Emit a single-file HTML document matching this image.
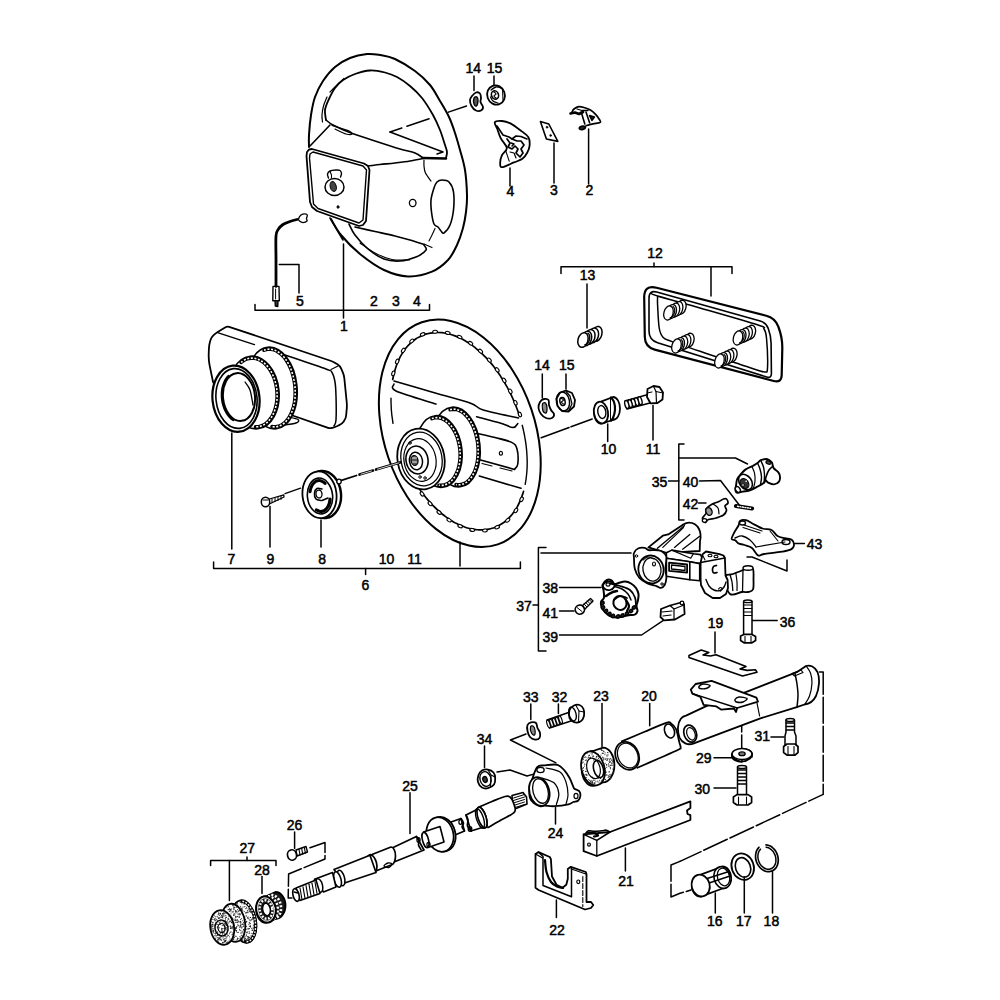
<!DOCTYPE html><html><head><meta charset="utf-8"><style>html,body{margin:0;padding:0;background:#fff;width:1000px;height:1000px;overflow:hidden}svg{display:block}text{font-family:"Liberation Sans",sans-serif;font-size:14px;fill:#000;text-anchor:middle;stroke:#000;stroke-width:0.5px}</style></head><body>
<svg width="1000" height="1000" viewBox="0 0 1000 1000">
<g fill="none" stroke="#000" stroke-width="1.5" stroke-linejoin="round" stroke-linecap="round">
<polyline points="474,76 474,90.5"/>
<polyline points="494,76 494,85"/>
<polyline points="510,168 510,186"/>
<polyline points="554,143 554,183"/>
<polyline points="588.6,129 588.6,184"/>
<polyline points="255,304.5 255,310.2 429.5,310.2 429.5,304.5"/>
<polyline points="343.5,244 343.5,318"/>
<polyline points="279.3,264.4 299,264.4 299,293"/>
<polyline points="561,273.5 561,266.7 732,266.7 732,273.5"/>
<polyline points="654,263 654,266.7"/>
<polyline points="711,266.7 711,296"/>
<polyline points="587,284 587,328"/>
<polyline points="542.3,374 542.3,398"/>
<polyline points="566,374 566,389"/>
<polyline points="607.7,424 607.7,441.5"/>
<polyline points="653,405.5 653,440"/>
<polyline points="213.6,562 213.6,568.5 520.4,568.5 520.4,562"/>
<polyline points="365.6,568.5 365.6,574.5"/>
<polyline points="231.8,433 231.8,549"/>
<polyline points="270,506.5 270,547"/>
<polyline points="321,520 321,547"/>
<polyline points="460,542 460,566"/>
<polyline points="684,444 678.8,444 678.8,520 684,520"/>
<polyline points="668.5,481 678.8,481"/>
<polyline points="699.5,481 720.5,480.5 740,506"/>
<polyline points="678.8,458 735.5,458 747.5,464"/>
<polyline points="698.5,503 706,503"/>
<polyline points="794,543.4 804.4,543.4"/>
<polyline points="747,557 752,557 787,571 787,560"/>
<polyline points="546,547.4 538.4,547.4 538.4,651 546,651"/>
<polyline points="533,605 538.4,605"/>
<polyline points="541,553 631,553"/>
<polyline points="559.5,587.5 601,587.5"/>
<polyline points="559.5,611 574,611"/>
<polyline points="559.5,635 641.6,635 663,620.6"/>
<polyline points="752,620.6 777.2,620.6"/>
<polyline points="715,632 715,653"/>
<polyline points="602,703.6 602,746.5"/>
<polyline points="649.7,703.6 649.7,725.7"/>
<polyline points="771,737 784,737"/>
<polyline points="714,757.7 732,757.7"/>
<polyline points="714,788 736,788"/>
<polyline points="530.8,704 530.8,719.6"/>
<polyline points="558.4,704 558.4,713.6"/>
<polyline points="484.5,746 484.5,767.6"/>
<polyline points="410,792.8 410,833.6"/>
<polyline points="555.5,807 555.5,824"/>
<polyline points="526,734 510.4,740 556,762.8"/>
<polyline points="497,772 510,770 527,776 535.6,773.6"/>
<polyline points="294.6,832 294.6,848.6"/>
<polyline points="262,876.6 262,893.4"/>
<polyline points="210.6,865.4 210.6,860.4 276,860.4 276,865.4"/>
<polyline points="247,857 247,860.4"/>
<polyline points="229.4,860.4 229.4,900.4"/>
<polyline points="625.4,848 625.4,871"/>
<polyline points="556.4,900 556.4,917.6"/>
<polyline points="715.3,893 715.3,913"/>
<polyline points="744.3,877 744.3,913"/>
<polyline points="772.5,871 772.5,913"/>
<polyline stroke-dasharray="26 3" points="741.7,706 741.7,748"/>
<polyline stroke-dasharray="26 3" points="819.5,672 823.2,672 823.2,794.4 680,861.4"/>
<polyline stroke-dasharray="26 3" points="680,861.4 671,865 671,897 680,893.3 691,890"/>
<polyline stroke-dasharray="26 3" points="310,847.7 325,842.5 325,859 288.6,874 288.2,898 292,898"/>
<polyline stroke-dasharray="19.1 20.4 23.4 5.4 12.6 100" points="466.5,106 390,132"/>
<polyline stroke-dasharray="22.6 2 40 100" points="592.2,419 541.2,437.7"/>
</g>
<g fill="none" stroke="#000" stroke-linejoin="round" stroke-linecap="round" stroke-width="1.5"><path d="M309,147 C309,145 308.7,140.3 309,135 C309.3,129.7 310,121.3 311,115 C312,108.7 313,102.7 315,97 C317,91.3 319.7,86 323,81 C326.3,76 330.5,70.8 335,67 C339.5,63.2 344.7,60.2 350,58 C355.3,55.8 362,54.5 367,54 C372,53.5 375.3,54.2 380,55 C384.7,55.8 389.2,56.3 395,59 C400.8,61.7 409.2,66.7 415,71 C420.8,75.3 425.8,80 430,85 C434.2,90 436.8,95.7 440,101 C443.2,106.3 446.5,111.7 449,117 C451.5,122.3 453.2,127.5 455,133 C456.8,138.5 458.3,143.8 460,150 C461.7,156.2 463.8,162.5 465,170 C466.2,177.5 466.8,188 467,195 C467.2,202 466.7,206.5 466,212 C465.3,217.5 464.5,222.5 463,228 C461.5,233.5 459.5,239.7 457,245 C454.5,250.3 452.2,255.6 448,260 C443.8,264.4 438.7,268.9 432,271.6 C425.3,274.3 416,276.7 408,276.4 C400,276.1 392,273.7 384,270 C376,266.3 367.2,259.8 360,254 C352.8,248.2 345.8,240.8 341,235 C336.2,229.2 332.7,221.7 331,219" stroke-width="2"/>
<path d="M326,120 C325.8,118.3 324.5,113.5 325,110 C325.5,106.5 327.3,102.7 329,99 C330.7,95.3 332.7,91.2 335,88 C337.3,84.8 339.7,82.3 343,80 C346.3,77.7 350.5,75.6 355,74 C359.5,72.4 365,70.8 370,70.5 C375,70.2 380.5,71.4 385,72.5 C389.5,73.6 392.8,74.8 397,77 C401.2,79.2 405.8,82.5 410,86 C414.2,89.5 418.2,93.2 422,98 C425.8,102.8 430,109.7 433,115 C436,120.3 438,125 440,130 C442,135 443.8,141.3 445,145 C446.2,148.7 446.8,149.8 447,152 C447.2,154.2 446.2,157 446,158" stroke-width="1.8"/>
<path d="M344,78.5 C342.7,79.8 338.3,83.8 336,86 C333.7,88.2 331,91 330,92" stroke-width="1.2"/>
<path d="M327,97 C326.4,98.5 324.3,103 323.5,106 C322.7,109 322.2,112.3 322,115 C321.8,117.7 322.4,120.8 322.5,122" stroke-width="1.2"/>
<path d="M326,120 C327.2,120.8 328.8,122.8 333,125 C337.2,127.2 344,130.3 351,133 C358,135.7 366.8,138.3 375,141 C383.2,143.7 393.3,147 400,149 C406.7,151 411.2,151.5 415,153 C418.8,154.5 421.7,157.2 423,158" stroke-width="1.6"/>
<polyline points="423,158 446,158.5" stroke-width="2.5"/>
<path d="M332,125.5 C333.3,125.9 337.2,127.1 340,128 C342.8,128.9 347,130 349,131 C351,132 352.5,133.5 352,134 C351.5,134.5 348.8,134.8 346,134 C343.2,133.2 336.8,129.8 335,129" stroke-width="1.2"/>
<polyline points="310,146 330,125" stroke-width="1.6"/>
<polyline points="390,132 443,152 437,154" stroke-width="1.5"/>
<path d="M368,166 C370,165.8 375.5,165 380,164.5 C384.5,164 390,163.6 395,163 C400,162.4 405.3,161.8 410,161 C414.7,160.2 420.8,158.9 423,158.5" stroke-width="1.6"/>
<polygon points="307,152 309,149.5 312,149 364,163.5 368,166 369.5,170 366,221 363,225 359,226 317,211 312,207 310,202 306.5,156" stroke-width="1.8"/>
<polygon points="310,154 313,152 363,166 366.5,170 363,220 359,223 318,208.5 313.5,204 309.5,158" stroke-width="1.4"/>
<ellipse cx="334.5" cy="187" rx="9.5" ry="8.5" stroke-width="1.5"/>
<ellipse cx="333.2" cy="186.5" rx="3" ry="5" transform="rotate(-15 333.2 186.5)" stroke-width="1" fill="#444"/>
<path d="M328.5,178 C328.3,177.3 327.2,175.2 327.5,174 C327.8,172.8 328.6,171.7 330,171 C331.4,170.3 334.3,170.1 336,170 C337.7,169.9 339.1,169.9 340,170.5 C340.9,171.1 341.4,172.4 341.5,173.5 C341.6,174.6 340.7,176.4 340.5,177" stroke-width="1.4"/>
<polyline points="330,171.5 331.5,175 331.5,178" stroke-width="1.1"/>
<ellipse cx="338" cy="207" rx="1.2" ry="1.4" stroke-width="0.5" fill="#111"/>
<polyline points="330,218 343,240" stroke-width="1.6"/>
<path d="M349,224 C350,225.8 351.8,230.8 355,235 C358.2,239.2 363.2,245 368,249 C372.8,253 378.7,257 384,259 C389.3,261 394.7,261.3 400,261 C405.3,260.7 411.7,258.8 416,257 C420.3,255.2 424.7,252 426,250 C427.3,248 424.3,245.8 424,245" stroke-width="1.6"/>
<path d="M355,227 C358.3,227.8 368.3,230 375,231.5 C381.7,233 389.2,234.6 395,236 C400.8,237.4 405.2,238.6 410,240 C414.8,241.4 421.7,243.7 424,244.4" stroke-width="1.6"/>
<path d="M360,243 C362.5,244.7 369.7,250.2 375,253 C380.3,255.8 386.2,258.3 392,259.5 C397.8,260.7 406.7,259.9 409.6,260" stroke-width="1.1"/>
<polyline points="424,244 432,247.6" stroke-width="1.1"/>
<path d="M442,180 C444,180 447.1,180 449,182 C450.9,184 452.8,187.3 453.5,192 C454.2,196.7 454.1,204.5 453.5,210 C452.9,215.5 451.6,221.2 450,225 C448.4,228.8 445.5,232 444,233 C442.5,234 442,232 441,231 C440,230 439.2,228.2 438,227 C436.8,225.8 435.1,226.5 434,224 C432.9,221.5 432,216 431.5,212 C431,208 430.6,204 431,200 C431.4,196 433,191 434,188 C435,185 435.7,183.3 437,182 C438.3,180.7 440,180 442,180Z" stroke-width="1.6"/>
<ellipse cx="412.7" cy="203" rx="3.3" ry="3.6" stroke-width="1.3"/>
<path d="M424,160 C424,161 423.8,163.8 424,166 C424.2,168.2 424.3,170.5 425.5,173 C426.7,175.5 430.1,179.7 431,181" stroke-width="1.2"/>
<path d="M435,228.4 C434.5,229.5 433,232.9 432,235 C431,237.1 429.5,240 429,241" stroke-width="1.1"/>
<path d="M276,286.4 C276,282 276,268.4 276,260 C276,251.6 275.6,241.2 276,236 C276.4,230.8 277.3,230.9 278.5,229 C279.7,227.1 281.1,225.8 283,224.5 C284.9,223.2 287.7,222.3 290,221.5 C292.3,220.7 295.8,219.8 297,219.5" stroke-width="2.8"/>
<path d="M298.5,219 C298.8,218 299.9,215.9 301,215 C302.1,214.1 303.9,213.8 305,213.8 C306.1,213.8 307.1,214.2 307.3,215 C307.6,215.8 306.6,217.5 306.5,218.5 C306.4,219.5 307.6,220.3 307,221 C306.4,221.7 304.2,222.6 303,222.6 C301.8,222.6 300.2,221.6 299.5,221 C298.8,220.4 298.2,220 298.5,219Z" stroke-width="1.3"/>
<polygon points="273,286.4 279,286.4 279.3,300.7 272.8,300.7" stroke-width="1.4"/>
<polyline points="275.6,289 275.6,299" stroke-width="1"/>
<polyline points="275,300.7 275.3,306 277.8,306.5 278,300.7" stroke-width="1.3" fill="#333"/></g>
<g fill="none" stroke="#000" stroke-linejoin="round" stroke-linecap="round" stroke-width="1.5"><path d="M472,96 C473,94.8 474.7,92.9 476,92.5 C477.3,92.1 479.2,92.6 480,93.5 C480.8,94.4 480.9,96.6 481,98 C481.1,99.4 480.2,100.5 480.5,102 C480.8,103.5 482.9,105.6 483,107 C483.1,108.4 482.2,109.9 481,110.5 C479.8,111.1 477.6,111.2 476,110.5 C474.4,109.8 472.5,107.8 471.5,106 C470.5,104.2 469.9,101.7 470,100 C470.1,98.3 471,97.2 472,96Z" stroke-width="1.8"/>
<path d="M474,98 C474.5,96.8 476.3,96.5 477,97 C477.7,97.5 478.1,99.5 478,101 C477.9,102.5 477.2,105.5 476.5,106 C475.8,106.5 474.4,105.3 474,104 C473.6,102.7 473.5,99.2 474,98Z" stroke-width="1.3" fill="#555"/>
<ellipse cx="496" cy="95" rx="8.8" ry="9.8" transform="rotate(-20 496 95)" stroke-width="1.8"/>
<path d="M491,90 C491.8,89.5 494.3,87.3 496,87 C497.7,86.7 500.2,87.8 501,88" stroke-width="1.3"/>
<path d="M490.5,97 C490.9,97.7 491.8,100 493,101 C494.2,102 497.2,102.7 498,103" stroke-width="1.2"/>
<ellipse cx="495" cy="95" rx="3.5" ry="4.2" transform="rotate(-20 495 95)" stroke-width="1.6" fill="#fff"/>
<path d="M494,92 C494.3,92.3 496,93.3 496,94 C496,94.7 494,95.3 494,96 C494,96.7 495.7,97.7 496,98" stroke-width="1.2"/>
<polyline points="502.5,89 503,100" stroke-width="1.1"/>
<path d="M494.8,122.2 C495.6,120.9 499.4,120.8 502,121 C504.6,121.2 507.4,121.9 510.4,123.4 C513.4,124.9 517,127.7 520,130 C523,132.3 526.8,134.6 528.4,137.2 C530,139.8 529.8,143 529.6,145.6 C529.4,148.2 528.4,150.6 527.2,152.8 C526,155 524.6,157.2 522.4,158.8 C520.2,160.4 517.4,161 514,162.4 C510.6,163.8 504.3,167.2 502,167.2 C499.7,167.2 500.2,164.4 500.2,162.4 C500.2,160.4 500.9,157.6 502,155.2 C503.1,152.8 507,150.8 506.8,148 C506.6,145.2 502.4,141.6 500.8,138.4 C499.2,135.2 498.2,131.5 497.2,128.8 C496.2,126.1 494,123.5 494.8,122.2Z" stroke-width="1.8"/>
<polyline points="497,126 503,135 509,137 512,139 516,136 521,136.5 527,139" stroke-width="1.6"/>
<polyline points="507,139 510,143 508,147 512,149 515,146 518,149 516,153 520,157 523,153 521,149 524,145 521,141 517,141 512,139" stroke-width="1.7"/>
<polyline points="511,143 514,144 512,146" stroke-width="1.5"/>
<polyline points="505.6,150.4 509.2,161.2" stroke-width="1.1"/>
<polyline points="510,152 514,153 516,158" stroke-width="1.2"/>
<polygon points="540.4,121.6 548.8,124 557.8,141.4 546.4,139" stroke-width="1.6"/>
<ellipse cx="547" cy="127.2" rx="0.9" ry="1" stroke-width="0.6" fill="#111"/>
<ellipse cx="550.6" cy="135.4" rx="0.9" ry="1" stroke-width="0.6" fill="#111"/>
<path d="M572,112 C572.3,111.5 572.9,109.9 574,109 C575.1,108.1 577,106.8 578.8,106.6 C580.6,106.4 582.8,107.2 584.8,107.8 C586.8,108.4 589,109.1 590.8,110.2 C592.6,111.3 594.2,112.9 595.6,114.4 C597,115.9 598.4,117.9 599.2,119.2 C600,120.5 601,121.5 600.4,122.2 C599.8,122.9 597.4,123 595.6,123.4 C593.8,123.8 591.2,124.2 589.6,124.6 C588,125 586.6,125.6 586,125.8" stroke-width="1.7"/>
<polyline points="570.5,113.5 575,112.5 579,114 583,112" stroke-width="2.6"/>
<polyline points="581.2,112 584.8,124" stroke-width="1.6"/>
<polyline points="586,112 589.6,122.8" stroke-width="1.6"/>
<polygon points="589.6,115.6 594.4,117 592,120.4" stroke-width="1.6" fill="#222"/>
<polyline points="577,109 582,110.5 588,110.5" stroke-width="1.3"/>
<path d="M580,127 C580.7,126.5 582.6,125.9 583.5,126 C584.4,126.1 585.6,126.9 585.5,127.5 C585.4,128.1 584,129.2 583,129.5 C582,129.8 580,129.4 579.5,129 C579,128.6 579.3,127.5 580,127Z" stroke-width="1.6" fill="#222"/></g>
<g fill="none" stroke="#000" stroke-linejoin="round" stroke-linecap="round" stroke-width="1.5"><path d="M644.2,297.5 Q644,284.5 656.6,287.7 L766.3,315.8 Q775,318 778.2,326.4 L778.8,328 Q782.5,338 782.3,348.7 L781.7,375 Q781.5,383 773.8,381 L654.7,349.6 Q645,347 644.8,337 Z" stroke-width="2.2"/>
<path d="M649,298 Q649,290 656.7,292.1 L760.2,320.9 Q766,322.5 768.1,328.1 L768.5,329.2 Q771,336 771.1,343.2 L771.4,373.5 Q771.5,378.5 766.7,377 L657.6,342.7 Q649,340 649,331 Z" stroke-width="1.6"/>
<path d="M651,293 C652.1,293.5 649.4,293.5 657.6,296 C665.8,298.5 683.3,303.2 700,308 C716.7,312.8 747.3,321.5 758,325 C768.7,328.5 762.6,326.8 764,329 C765.4,331.2 765.9,331.5 766.5,338 C767.1,344.5 767.8,362.3 767.5,368 C767.2,373.7 766.8,371.7 765,372 C763.2,372.3 761.8,371.5 757,370 C752.2,368.5 742.8,365.2 736,363 C729.2,360.8 722.2,358.6 716.2,356.7 C710.2,354.8 707.4,353.8 700,351.3 C692.6,348.8 678.1,343.9 672,341.6 C665.9,339.3 665.3,339.9 663.2,337.6 C661.1,335.3 660.1,333.4 659.2,328 C658.3,322.6 657.9,310.3 657.6,305 C657.3,299.7 657.6,297.5 657.6,296" stroke-width="1.5"/>
<ellipse cx="681.3" cy="307.3" rx="4.6" ry="7.2" transform="rotate(15 681.3 307.3)" stroke-width="1.3" fill="#fff"/>
<ellipse cx="678.1" cy="308.7" rx="4.6" ry="7.2" transform="rotate(15 678.1 308.7)" stroke-width="1.3" fill="#fff"/>
<ellipse cx="674.9" cy="310.2" rx="4.6" ry="7.2" transform="rotate(15 674.9 310.2)" stroke-width="1.3" fill="#fff"/>
<ellipse cx="671.7" cy="311.6" rx="4.6" ry="7.2" transform="rotate(15 671.7 311.6)" stroke-width="1.3" fill="#fff"/>
<ellipse cx="668.5" cy="313" rx="4.6" ry="7.2" transform="rotate(15 668.5 313)" stroke-width="1.3" fill="#fff"/>
<path d="M673.1,306.5 C673.2,306.7 673.6,307 673.9,307.3 C674.1,307.5 674.3,307.9 674.4,308.3 C674.5,308.7 674.6,309.2 674.7,309.7 C674.7,310.1 674.7,310.7 674.7,311.2 C674.6,311.7 674.5,312.2 674.4,312.8 C674.3,313.3 674.1,313.8 673.9,314.3 C673.6,314.7 673.4,315.2 673.1,315.6 C672.8,316 672.5,316.3 672.2,316.6 C671.9,316.9 671.5,317.1 671.2,317.3 C670.8,317.4 670.3,317.5 670.2,317.5" stroke-width="1.1700000000000002"/>
<ellipse cx="689.3" cy="340.3" rx="4.6" ry="7.2" transform="rotate(15 689.3 340.3)" stroke-width="1.3" fill="#fff"/>
<ellipse cx="686.1" cy="341.7" rx="4.6" ry="7.2" transform="rotate(15 686.1 341.7)" stroke-width="1.3" fill="#fff"/>
<ellipse cx="682.9" cy="343.2" rx="4.6" ry="7.2" transform="rotate(15 682.9 343.2)" stroke-width="1.3" fill="#fff"/>
<ellipse cx="679.7" cy="344.6" rx="4.6" ry="7.2" transform="rotate(15 679.7 344.6)" stroke-width="1.3" fill="#fff"/>
<ellipse cx="676.5" cy="346" rx="4.6" ry="7.2" transform="rotate(15 676.5 346)" stroke-width="1.3" fill="#fff"/>
<path d="M681.1,339.5 C681.2,339.7 681.6,340 681.9,340.3 C682.1,340.5 682.3,340.9 682.4,341.3 C682.5,341.7 682.6,342.2 682.7,342.7 C682.7,343.1 682.7,343.7 682.7,344.2 C682.6,344.7 682.5,345.2 682.4,345.8 C682.3,346.3 682.1,346.8 681.9,347.3 C681.6,347.7 681.4,348.2 681.1,348.6 C680.8,349 680.5,349.3 680.2,349.6 C679.9,349.9 679.5,350.1 679.2,350.3 C678.8,350.4 678.3,350.5 678.2,350.5" stroke-width="1.1700000000000002"/>
<ellipse cx="750.8" cy="332.3" rx="4.6" ry="7.2" transform="rotate(15 750.8 332.3)" stroke-width="1.3" fill="#fff"/>
<ellipse cx="747.6" cy="333.7" rx="4.6" ry="7.2" transform="rotate(15 747.6 333.7)" stroke-width="1.3" fill="#fff"/>
<ellipse cx="744.4" cy="335.2" rx="4.6" ry="7.2" transform="rotate(15 744.4 335.2)" stroke-width="1.3" fill="#fff"/>
<ellipse cx="741.2" cy="336.6" rx="4.6" ry="7.2" transform="rotate(15 741.2 336.6)" stroke-width="1.3" fill="#fff"/>
<ellipse cx="738" cy="338" rx="4.6" ry="7.2" transform="rotate(15 738 338)" stroke-width="1.3" fill="#fff"/>
<path d="M742.6,331.5 C742.7,331.7 743.1,332 743.4,332.3 C743.6,332.5 743.8,332.9 743.9,333.3 C744,333.7 744.1,334.2 744.2,334.7 C744.2,335.1 744.2,335.7 744.2,336.2 C744.1,336.7 744,337.2 743.9,337.8 C743.8,338.3 743.6,338.8 743.4,339.3 C743.1,339.7 742.9,340.2 742.6,340.6 C742.3,341 742,341.3 741.7,341.6 C741.4,341.9 741,342.1 740.7,342.3 C740.3,342.4 739.8,342.5 739.7,342.5" stroke-width="1.1700000000000002"/>
<ellipse cx="732.3" cy="355.3" rx="4.6" ry="7.2" transform="rotate(15 732.3 355.3)" stroke-width="1.3" fill="#fff"/>
<ellipse cx="729.1" cy="356.7" rx="4.6" ry="7.2" transform="rotate(15 729.1 356.7)" stroke-width="1.3" fill="#fff"/>
<ellipse cx="725.9" cy="358.2" rx="4.6" ry="7.2" transform="rotate(15 725.9 358.2)" stroke-width="1.3" fill="#fff"/>
<ellipse cx="722.7" cy="359.6" rx="4.6" ry="7.2" transform="rotate(15 722.7 359.6)" stroke-width="1.3" fill="#fff"/>
<ellipse cx="719.5" cy="361" rx="4.6" ry="7.2" transform="rotate(15 719.5 361)" stroke-width="1.3" fill="#fff"/>
<path d="M724.1,354.5 C724.2,354.7 724.6,355 724.9,355.3 C725.1,355.5 725.3,355.9 725.4,356.3 C725.5,356.7 725.6,357.2 725.7,357.7 C725.7,358.1 725.7,358.7 725.7,359.2 C725.6,359.7 725.5,360.2 725.4,360.8 C725.3,361.3 725.1,361.8 724.9,362.3 C724.6,362.7 724.4,363.2 724.1,363.6 C723.8,364 723.5,364.3 723.2,364.6 C722.9,364.9 722.5,365.1 722.2,365.3 C721.8,365.4 721.3,365.5 721.2,365.5" stroke-width="1.1700000000000002"/>
<ellipse cx="596.9" cy="333.8" rx="5" ry="7.5" transform="rotate(15 596.9 333.8)" stroke-width="1.5" fill="#fff"/>
<ellipse cx="593.4" cy="335.4" rx="5" ry="7.5" transform="rotate(15 593.4 335.4)" stroke-width="1.5" fill="#fff"/>
<ellipse cx="589.9" cy="336.9" rx="5" ry="7.5" transform="rotate(15 589.9 336.9)" stroke-width="1.5" fill="#fff"/>
<ellipse cx="586.5" cy="338.5" rx="5" ry="7.5" transform="rotate(15 586.5 338.5)" stroke-width="1.5" fill="#fff"/>
<ellipse cx="583" cy="340" rx="5" ry="7.5" transform="rotate(15 583 340)" stroke-width="1.5" fill="#fff"/>
<path d="M587.9,333.2 C588.1,333.4 588.5,333.7 588.8,334 C589,334.3 589.2,334.7 589.4,335.1 C589.5,335.5 589.6,336 589.7,336.5 C589.7,337 589.7,337.6 589.7,338.1 C589.6,338.6 589.5,339.2 589.4,339.7 C589.3,340.3 589.1,340.8 588.8,341.3 C588.6,341.8 588.3,342.3 588,342.7 C587.7,343.1 587.4,343.4 587,343.7 C586.7,344 586.3,344.2 586,344.4 C585.6,344.6 585.1,344.6 584.9,344.6" stroke-width="1.35"/></g>
<g fill="none" stroke="#000" stroke-linejoin="round" stroke-linecap="round" stroke-width="1.5"><path d="M225.5,327.2 Q227.2,326.2 229.1,326.8 L331.2,361 Q334,362 336.5,363.7 L337.5,364.3 Q340,366 341.2,368.7 L342.8,372.3 Q344,375 344.3,378 L346.7,402 Q347,405 346.8,408 L346.2,415 Q346,418 344.3,420.5 L343.7,421.5 Q342,424 339.2,425.2 L337.4,426 Q335,427 332.5,427.8 L331.9,427.9 Q330,428.5 328.1,427.8 L294,416 Q294,416 294,416 L216.4,385.7 Q213.6,384.6 213,381.7 L209.7,365.9 Q208.5,360 208.7,354 L208.9,349 Q209,345 210.1,341.2 L210.4,340.3 Q211.2,337.4 213.4,335.4 L214.5,334.4 Q216,333 217.7,332 Z" stroke-width="1.8" fill="#fff"/>
<polyline points="217.6,332.6 254.4,344.6" stroke-width="1.5"/>
<path d="M282,354 C289.3,356.5 317.7,365.9 326,369 C334.3,372.1 330.5,370.3 332,372.5 C333.5,374.7 334.3,378.1 335,382 C335.7,385.9 335.8,389.7 336,396 C336.2,402.3 336.3,415 336,420 C335.7,425 334.3,425 334,426" stroke-width="1.5"/>
<polyline points="331,369.5 338,366" stroke-width="1.2"/>
<path d="M288,417 C289.7,417.4 296.7,418.5 298,419.5 C299.3,420.5 299,422 296,423 C293,424 282.7,425.1 280,425.5" stroke-width="1.4"/>
<ellipse cx="272" cy="388" rx="25" ry="41" transform="rotate(-6 272 388)" stroke-width="1.6" fill="#fff"/>
<path d="M264,350.2 C264.6,350.1 266.2,349.5 267.3,349.3 C268.4,349.1 269.5,349.1 270.6,349.2 C271.7,349.3 272.9,349.5 274,349.9 C275.1,350.3 276.2,350.8 277.3,351.4 C278.4,352.1 279.5,352.8 280.5,353.7 C281.6,354.6 282.6,355.6 283.6,356.7 C284.6,357.9 285.5,359.1 286.4,360.4 C287.3,361.7 288.1,363.2 288.9,364.7 C289.6,366.2 290.4,367.8 291,369.4 C291.7,371.1 292.2,372.8 292.7,374.6 C293.2,376.3 293.7,378.2 294,380 C294.4,381.8 294.7,383.7 294.9,385.6 C295.1,387.5 295.2,389.4 295.2,391.2 C295.3,393.1 295.2,395 295.1,396.8 C295,398.6 294.7,400.5 294.5,402.2 C294.2,404 293.8,405.7 293.4,407.3 C292.9,408.9 292.4,410.5 291.8,412 C291.2,413.5 290.5,414.9 289.8,416.2 C289.1,417.5 288.3,418.7 287.5,419.7 C286.6,420.8 285.7,421.8 284.8,422.7 C283.9,423.5 282.9,424.2 281.9,424.8 C280.8,425.4 279.8,425.9 278.7,426.2 C277.6,426.6 276.5,426.8 275.4,426.8 C274.3,426.9 272.6,426.7 272,426.6" stroke-width="3.6"/><path d="M264,350.2 C264.6,350.1 266.2,349.5 267.3,349.3 C268.4,349.1 269.5,349.1 270.6,349.2 C271.7,349.3 272.9,349.5 274,349.9 C275.1,350.3 276.2,350.8 277.3,351.4 C278.4,352.1 279.5,352.8 280.5,353.7 C281.6,354.6 282.6,355.6 283.6,356.7 C284.6,357.9 285.5,359.1 286.4,360.4 C287.3,361.7 288.1,363.2 288.9,364.7 C289.6,366.2 290.4,367.8 291,369.4 C291.7,371.1 292.2,372.8 292.7,374.6 C293.2,376.3 293.7,378.2 294,380 C294.4,381.8 294.7,383.7 294.9,385.6 C295.1,387.5 295.2,389.4 295.2,391.2 C295.3,393.1 295.2,395 295.1,396.8 C295,398.6 294.7,400.5 294.5,402.2 C294.2,404 293.8,405.7 293.4,407.3 C292.9,408.9 292.4,410.5 291.8,412 C291.2,413.5 290.5,414.9 289.8,416.2 C289.1,417.5 288.3,418.7 287.5,419.7 C286.6,420.8 285.7,421.8 284.8,422.7 C283.9,423.5 282.9,424.2 281.9,424.8 C280.8,425.4 279.8,425.9 278.7,426.2 C277.6,426.6 276.5,426.8 275.4,426.8 C274.3,426.9 272.6,426.7 272,426.6" stroke="#fff" stroke-width="1.6" stroke-dasharray="2 1.6" stroke-linecap="butt"/>
<ellipse cx="254" cy="392.5" rx="25" ry="36.5" transform="rotate(-6 254 392.5)" stroke-width="1.6" fill="#fff"/>
<path d="M241.1,362.4 C241.6,362.1 243.1,360.8 244.1,360.2 C245.2,359.6 246.3,359.1 247.4,358.8 C248.6,358.4 249.7,358.2 250.9,358.1 C252.1,358.1 253.2,358.1 254.4,358.3 C255.6,358.5 256.8,358.8 257.9,359.2 C259.1,359.7 260.3,360.3 261.4,361 C262.5,361.7 263.6,362.5 264.6,363.4 C265.7,364.3 266.7,365.4 267.6,366.5 C268.6,367.7 269.5,368.9 270.3,370.3 C271.1,371.6 271.9,373 272.6,374.5 C273.3,376 274,377.6 274.5,379.2 C275,380.8 275.5,382.5 275.9,384.2 C276.3,385.9 276.6,387.6 276.8,389.3 C277,391.1 277.1,392.9 277.1,394.6 C277.2,396.3 277.1,398.1 277,399.8 C276.8,401.5 276.6,403.2 276.3,404.8 C275.9,406.4 275.5,408 275,409.6 C274.5,411.1 273.9,412.5 273.3,413.9 C272.7,415.3 271.9,416.6 271.1,417.8 C270.3,418.9 269.5,420 268.6,421 C267.6,422 266.7,422.9 265.7,423.6 C264.6,424.4 263.6,425 262.5,425.5 C261.4,426 260.2,426.3 259.1,426.6 C257.9,426.8 256.2,426.8 255.6,426.9" stroke-width="3.6"/><path d="M241.1,362.4 C241.6,362.1 243.1,360.8 244.1,360.2 C245.2,359.6 246.3,359.1 247.4,358.8 C248.6,358.4 249.7,358.2 250.9,358.1 C252.1,358.1 253.2,358.1 254.4,358.3 C255.6,358.5 256.8,358.8 257.9,359.2 C259.1,359.7 260.3,360.3 261.4,361 C262.5,361.7 263.6,362.5 264.6,363.4 C265.7,364.3 266.7,365.4 267.6,366.5 C268.6,367.7 269.5,368.9 270.3,370.3 C271.1,371.6 271.9,373 272.6,374.5 C273.3,376 274,377.6 274.5,379.2 C275,380.8 275.5,382.5 275.9,384.2 C276.3,385.9 276.6,387.6 276.8,389.3 C277,391.1 277.1,392.9 277.1,394.6 C277.2,396.3 277.1,398.1 277,399.8 C276.8,401.5 276.6,403.2 276.3,404.8 C275.9,406.4 275.5,408 275,409.6 C274.5,411.1 273.9,412.5 273.3,413.9 C272.7,415.3 271.9,416.6 271.1,417.8 C270.3,418.9 269.5,420 268.6,421 C267.6,422 266.7,422.9 265.7,423.6 C264.6,424.4 263.6,425 262.5,425.5 C261.4,426 260.2,426.3 259.1,426.6 C257.9,426.8 256.2,426.8 255.6,426.9" stroke="#fff" stroke-width="1.6" stroke-dasharray="2 1.6" stroke-linecap="butt"/>
<ellipse cx="236" cy="398.7" rx="23.5" ry="33.2" transform="rotate(-6 236 398.7)" stroke-width="2.2" fill="#fff"/>
<ellipse cx="236.5" cy="398.5" rx="20.5" ry="30" transform="rotate(-6 236.5 398.5)" stroke-width="1.6"/>
<ellipse cx="239" cy="397" rx="16" ry="24" transform="rotate(-6 239 397)" stroke-width="2"/>
<path d="M233.1,419.9 C232.6,419.5 231.2,418.5 230.4,417.6 C229.5,416.7 228.6,415.8 227.9,414.7 C227.1,413.6 226.4,412.5 225.8,411.3 C225.1,410 224.5,408.7 224.1,407.4 C223.6,406 223.2,404.6 222.8,403.2 C222.5,401.8 222.3,400.3 222.1,398.8 C221.9,397.4 221.9,395.9 221.9,394.4 C221.9,392.9 222,391.5 222.2,390 C222.4,388.6 222.7,387.2 223.1,385.9 C223.5,384.6 223.9,383.3 224.5,382.1 C225,380.9 225.6,379.8 226.3,378.7 C226.9,377.7 228.1,376.4 228.5,376" stroke-width="2.4"/>
<path d="M245,382 C245.8,383.3 248.7,386.2 250,390 C251.3,393.8 252.5,402.5 253,405" stroke-width="1.3"/>
<path d="M224,385 C223.7,386.7 222.2,391.7 222,395 C221.8,398.3 222.8,403.3 223,405" stroke-width="1" stroke-dasharray="2 2"/>
<ellipse cx="459.8" cy="433.3" rx="75.5" ry="117.4" transform="rotate(-18.9 459.8 433.3)" stroke-width="2"/>
<path d="M392.7,379.5 C392.9,378.7 393.4,376.1 393.8,374.5 C394.2,372.9 394.6,371.3 395.1,369.7 C395.6,368.1 396.1,366.6 396.6,365.1 C397.2,363.7 397.7,362.2 398.4,360.8 C399,359.4 399.6,358.1 400.3,356.7 C401,355.4 401.8,354.2 402.5,353 C403.3,351.7 404.1,350.6 404.9,349.4 C405.8,348.3 406.6,347.3 407.5,346.2 C408.4,345.2 409.4,344.3 410.3,343.4 C411.3,342.4 412.3,341.6 413.3,340.8 C414.3,340 415.4,339.2 416.4,338.5 C417.5,337.9 418.6,337.2 419.7,336.7 C420.9,336.1 422,335.6 423.2,335.1 C424.3,334.6 425.5,334.2 426.7,333.9 C428,333.6 429.2,333.3 430.4,333.1 C431.7,332.9 433,332.7 434.2,332.6 C435.5,332.5 436.8,332.5 438.1,332.5 C439.4,332.5 440.8,332.6 442.1,332.7 C443.4,332.9 444.8,333.1 446.1,333.3 C447.5,333.6 448.8,333.9 450.2,334.3 C451.6,334.7 452.9,335.1 454.3,335.6 C455.7,336.1 457,336.7 458.4,337.3 C459.8,337.9 461.2,338.6 462.6,339.3 C463.9,340.1 465.3,340.9 466.7,341.7 C468,342.6 469.4,343.4 470.8,344.4 C472.1,345.3 473.5,346.4 474.8,347.4 C476.1,348.5 477.5,349.6 478.8,350.7 C480.1,351.9 481.4,353.1 482.7,354.3 C484,355.6 485.3,356.9 486.5,358.2 C487.8,359.6 489,361 490.3,362.4 C491.5,363.8 492.7,365.3 493.9,366.8 C495.1,368.3 496.2,369.9 497.4,371.5 C498.5,373.1 499.6,374.7 500.7,376.4 C501.8,378 502.9,379.7 503.9,381.4 C504.9,383.2 505.9,384.9 506.9,386.7 C507.9,388.5 508.8,390.3 509.8,392.1 C510.7,393.9 511.6,395.8 512.4,397.7 C513.3,399.6 514.1,401.5 514.9,403.4 C515.7,405.3 516.4,407.2 517.2,409.2 C517.9,411.1 518.9,414.1 519.2,415" stroke-width="1.7"/>
<ellipse cx="393.3" cy="373.4" rx="2.4" ry="1.5" transform="rotate(-71.6 393.3 373.4)" stroke-width="1.1" fill="#fff"/>
<ellipse cx="397.2" cy="361.5" rx="2.4" ry="1.5" transform="rotate(-66.4 397.2 361.5)" stroke-width="1.1" fill="#fff"/>
<ellipse cx="403.3" cy="350.4" rx="2.4" ry="1.5" transform="rotate(-54.6 403.3 350.4)" stroke-width="1.1" fill="#fff"/>
<ellipse cx="411.8" cy="341" rx="2.4" ry="1.5" transform="rotate(-39.5 411.8 341)" stroke-width="1.1" fill="#fff"/>
<ellipse cx="422.7" cy="334.4" rx="2.4" ry="1.5" transform="rotate(-21.6 422.7 334.4)" stroke-width="1.1" fill="#fff"/>
<ellipse cx="435.1" cy="331.8" rx="2.4" ry="1.5" transform="rotate(-3.5 435.1 331.8)" stroke-width="1.1" fill="#fff"/>
<ellipse cx="447.7" cy="332.9" rx="2.4" ry="1.5" transform="rotate(12.1 447.7 332.9)" stroke-width="1.1" fill="#fff"/>
<ellipse cx="459.7" cy="337" rx="2.4" ry="1.5" transform="rotate(24.5 459.7 337)" stroke-width="1.1" fill="#fff"/>
<ellipse cx="470.6" cy="343.3" rx="2.4" ry="1.5" transform="rotate(34.2 470.6 343.3)" stroke-width="1.1" fill="#fff"/>
<ellipse cx="480.5" cy="351.2" rx="2.4" ry="1.5" transform="rotate(41.9 480.5 351.2)" stroke-width="1.1" fill="#fff"/>
<ellipse cx="489.3" cy="360.1" rx="2.4" ry="1.5" transform="rotate(48.2 489.3 360.1)" stroke-width="1.1" fill="#fff"/>
<ellipse cx="497.2" cy="369.9" rx="2.4" ry="1.5" transform="rotate(53.7 497.2 369.9)" stroke-width="1.1" fill="#fff"/>
<ellipse cx="504.2" cy="380.4" rx="2.4" ry="1.5" transform="rotate(58.6 504.2 380.4)" stroke-width="1.1" fill="#fff"/>
<ellipse cx="510.3" cy="391.3" rx="2.4" ry="1.5" transform="rotate(63.1 510.3 391.3)" stroke-width="1.1" fill="#fff"/>
<ellipse cx="515.5" cy="402.8" rx="2.4" ry="1.5" transform="rotate(67.5 515.5 402.8)" stroke-width="1.1" fill="#fff"/>
<ellipse cx="519.9" cy="414.5" rx="2.4" ry="1.5" transform="rotate(69.6 519.9 414.5)" stroke-width="1.1" fill="#fff"/>
<path d="M394,381 C400,382.8 417.3,387.8 430,391.5 C442.7,395.2 461.1,399.9 470,403 C478.9,406.1 475.2,407.5 483.3,410 C491.4,412.5 512.5,416.7 518.4,418" stroke-width="1.6"/>
<path d="M394,384 C394.3,385.2 389,387.7 396,391 C403,394.3 429.3,401.8 436,404" stroke-width="1.6"/>
<path d="M476.6,416.7 C480.5,417.8 493.9,421.2 500,423 C506.1,424.8 510,427.4 513,427.5 C516,427.6 517,424.2 517.8,423.5" stroke-width="1.6"/>
<path d="M391,398.1 C391,398.8 391,400.8 391,402.2 C391.1,403.6 391.1,405 391.2,406.4 C391.2,407.7 391.3,409.1 391.4,410.5 C391.6,411.9 391.7,413.4 391.8,414.8 C392,416.2 392.2,417.6 392.4,419 C392.6,420.5 392.9,422.6 393,423.3" stroke-width="1.4"/>
<path d="M475.2,433 C478.5,433.8 488.9,435.9 495,437.5 C501.1,439.1 508,440.5 511.7,442.4 C515.4,444.3 516,445.4 517,449 C518,452.6 518.2,460.6 517.8,464 C517.4,467.4 515,468.5 514.4,469.4" stroke-width="1.6"/>
<polyline points="480.6,460 514.4,469.4" stroke-width="1.6"/>
<polyline points="482,463.5 492,466" stroke-width="1.1"/>
<polyline points="500,468 512,471" stroke-width="1.1"/>
<ellipse cx="500.9" cy="453.2" rx="1.6" ry="1.9" stroke-width="1.2"/>
<path d="M522.2,425.3 C522.5,426.3 523.3,429.4 523.7,431.5 C524.2,433.6 524.6,435.6 524.9,437.7 C525.3,439.8 525.6,441.8 525.9,443.9 C526.2,445.9 526.4,448 526.6,450 C526.8,452 526.9,454 527,456 C527.1,458 527.2,460 527.2,462 C527.2,464 527.2,465.9 527.1,467.8 C527,469.7 526.9,471.6 526.7,473.5 C526.5,475.4 526.3,477.2 526.1,479 C525.8,480.8 525.3,483.5 525.2,484.4" stroke-width="1.4"/>
<polyline points="479.3,476 521,488.3" stroke-width="1.6"/>
<path d="M523.5,491.4 C523.3,492.1 522.7,494.1 522.2,495.4 C521.8,496.7 521.3,498 520.8,499.3 C520.3,500.5 519.8,501.7 519.2,502.9 C518.7,504.1 518.1,505.2 517.5,506.4 C516.9,507.5 516.2,508.6 515.6,509.6 C514.9,510.6 514.2,511.7 513.5,512.6 C512.8,513.6 512,514.5 511.3,515.4 C510.5,516.3 509.7,517.2 508.9,518 C508.1,518.8 507.3,519.6 506.4,520.4 C505.6,521.1 504.7,521.8 503.8,522.5 C502.9,523.1 502,523.7 501,524.3 C500.1,524.9 499.1,525.4 498.2,525.9 C497.2,526.4 496.2,526.8 495.2,527.2 C494.2,527.6 493.2,528 492.1,528.3 C491.1,528.6 490,528.9 489,529.1 C487.9,529.3 486.8,529.5 485.7,529.6 C484.6,529.8 483.5,529.9 482.4,529.9 C481.3,529.9 480.2,529.9 479,529.9 C477.9,529.8 476.7,529.7 475.6,529.6 C474.4,529.5 473.3,529.3 472.1,529.1 C471,528.8 469.8,528.6 468.6,528.2 C467.4,527.9 466.2,527.6 465.1,527.2 C463.9,526.8 462.7,526.3 461.5,525.8 C460.3,525.3 459.1,524.8 457.9,524.2 C456.7,523.6 455.6,523 454.4,522.4 C453.2,521.7 452,521 450.8,520.3 C449.6,519.5 448.5,518.7 447.3,517.9 C446.1,517.1 445,516.2 443.8,515.3 C442.6,514.4 441.5,513.5 440.4,512.5 C439.2,511.5 438.1,510.5 437,509.4 C435.8,508.4 434.7,507.3 433.6,506.2 C432.5,505.1 431.4,503.9 430.3,502.7 C429.3,501.5 428.2,500.3 427.2,499.1 C426.1,497.8 425.1,496.5 424.1,495.2 C423,493.9 422,492.6 421,491.2 C420.1,489.8 419.1,488.4 418.1,487 C417.2,485.6 416.3,484.1 415.3,482.7 C414.4,481.2 413.5,479.7 412.7,478.2 C411.8,476.7 411,475.1 410.1,473.6 C409.3,472 408.1,469.6 407.7,468.9" stroke-width="1.7"/>
<ellipse cx="521.6" cy="499.3" rx="2.4" ry="1.5" transform="rotate(117.1 521.6 499.3)" stroke-width="1.1" fill="#fff"/>
<ellipse cx="515.9" cy="510.5" rx="2.4" ry="1.5" transform="rotate(123.6 515.9 510.5)" stroke-width="1.1" fill="#fff"/>
<ellipse cx="507.7" cy="520.2" rx="2.4" ry="1.5" transform="rotate(138.3 507.7 520.2)" stroke-width="1.1" fill="#fff"/>
<ellipse cx="497.2" cy="527.2" rx="2.4" ry="1.5" transform="rotate(155.8 497.2 527.2)" stroke-width="1.1" fill="#fff"/>
<ellipse cx="484.9" cy="530.5" rx="2.4" ry="1.5" transform="rotate(173.9 484.9 530.5)" stroke-width="1.1" fill="#fff"/>
<ellipse cx="472.2" cy="529.9" rx="2.4" ry="1.5" transform="rotate(-169.9 472.2 529.9)" stroke-width="1.1" fill="#fff"/>
<ellipse cx="460.2" cy="526.1" rx="2.4" ry="1.5" transform="rotate(-157 460.2 526.1)" stroke-width="1.1" fill="#fff"/>
<ellipse cx="449.1" cy="520.1" rx="2.4" ry="1.5" transform="rotate(-147 449.1 520.1)" stroke-width="1.1" fill="#fff"/>
<ellipse cx="439.1" cy="512.4" rx="2.4" ry="1.5" transform="rotate(-139.1 439.1 512.4)" stroke-width="1.1" fill="#fff"/>
<ellipse cx="430.1" cy="503.6" rx="2.4" ry="1.5" transform="rotate(-132.6 430.1 503.6)" stroke-width="1.1" fill="#fff"/>
<ellipse cx="422.1" cy="493.9" rx="2.4" ry="1.5" transform="rotate(-127 422.1 493.9)" stroke-width="1.1" fill="#fff"/>
<ellipse cx="415" cy="483.6" rx="2.4" ry="1.5" transform="rotate(-122.1 415 483.6)" stroke-width="1.1" fill="#fff"/>
<ellipse cx="408.8" cy="472.7" rx="2.4" ry="1.5" transform="rotate(-119.6 408.8 472.7)" stroke-width="1.1" fill="#fff"/>
<ellipse cx="456" cy="447" rx="24" ry="40" transform="rotate(-6 456 447)" stroke-width="1.6" fill="#fff"/>
<path d="M450.1,409.6 C450.7,409.5 452.2,409.2 453.2,409.1 C454.3,409.1 455.3,409.2 456.4,409.5 C457.4,409.7 458.5,410.1 459.5,410.6 C460.5,411.1 461.6,411.7 462.6,412.4 C463.6,413.1 464.6,414 465.5,414.9 C466.5,415.9 467.4,417 468.3,418.1 C469.1,419.3 470,420.5 470.8,421.9 C471.5,423.2 472.3,424.6 473,426.1 C473.6,427.6 474.3,429.2 474.8,430.8 C475.4,432.4 475.9,434.1 476.3,435.8 C476.7,437.5 477.1,439.2 477.4,441 C477.7,442.8 477.9,444.6 478,446.4 C478.2,448.1 478.2,449.9 478.2,451.7 C478.2,453.5 478.1,455.2 478,457 C477.8,458.7 477.6,460.4 477.3,462 C477,463.7 476.6,465.3 476.2,466.8 C475.8,468.3 475.3,469.8 474.7,471.2 C474.1,472.5 473.5,473.8 472.8,475 C472.1,476.2 471.4,477.3 470.6,478.3 C469.8,479.3 468.9,480.3 468,481 C467.2,481.8 466.2,482.5 465.3,483 C464.3,483.6 463.3,484 462.3,484.3 C461.3,484.6 460.3,484.8 459.3,484.8 C458.2,484.9 456.6,484.7 456.1,484.6" stroke-width="3.6"/><path d="M450.1,409.6 C450.7,409.5 452.2,409.2 453.2,409.1 C454.3,409.1 455.3,409.2 456.4,409.5 C457.4,409.7 458.5,410.1 459.5,410.6 C460.5,411.1 461.6,411.7 462.6,412.4 C463.6,413.1 464.6,414 465.5,414.9 C466.5,415.9 467.4,417 468.3,418.1 C469.1,419.3 470,420.5 470.8,421.9 C471.5,423.2 472.3,424.6 473,426.1 C473.6,427.6 474.3,429.2 474.8,430.8 C475.4,432.4 475.9,434.1 476.3,435.8 C476.7,437.5 477.1,439.2 477.4,441 C477.7,442.8 477.9,444.6 478,446.4 C478.2,448.1 478.2,449.9 478.2,451.7 C478.2,453.5 478.1,455.2 478,457 C477.8,458.7 477.6,460.4 477.3,462 C477,463.7 476.6,465.3 476.2,466.8 C475.8,468.3 475.3,469.8 474.7,471.2 C474.1,472.5 473.5,473.8 472.8,475 C472.1,476.2 471.4,477.3 470.6,478.3 C469.8,479.3 468.9,480.3 468,481 C467.2,481.8 466.2,482.5 465.3,483 C464.3,483.6 463.3,484 462.3,484.3 C461.3,484.6 460.3,484.8 459.3,484.8 C458.2,484.9 456.6,484.7 456.1,484.6" stroke="#fff" stroke-width="1.6" stroke-dasharray="2 1.6" stroke-linecap="butt"/>
<ellipse cx="439" cy="451.5" rx="23" ry="36" transform="rotate(-6 439 451.5)" stroke-width="1.6" fill="#fff"/>
<path d="M431.9,418.6 C432.4,418.4 433.8,417.9 434.8,417.8 C435.8,417.6 436.9,417.6 437.9,417.7 C438.9,417.7 440,417.9 441,418.3 C442,418.6 443,419 444,419.6 C445,420.1 446,420.8 446.9,421.6 C447.9,422.3 448.8,423.2 449.7,424.2 C450.6,425.2 451.4,426.2 452.2,427.4 C453,428.5 453.8,429.8 454.5,431.1 C455.2,432.4 455.8,433.8 456.4,435.2 C457,436.7 457.5,438.2 458,439.7 C458.4,441.2 458.8,442.8 459.1,444.4 C459.5,446 459.7,447.7 459.9,449.3 C460.1,450.9 460.2,452.6 460.2,454.2 C460.2,455.9 460.2,457.5 460,459.1 C459.9,460.7 459.7,462.3 459.4,463.8 C459.2,465.3 458.8,466.8 458.4,468.2 C458,469.7 457.5,471 457,472.3 C456.4,473.6 455.8,474.9 455.1,476 C454.5,477.1 453.8,478.2 453,479.1 C452.2,480.1 451.4,480.9 450.5,481.7 C449.7,482.4 448.8,483.1 447.8,483.6 C446.9,484.1 445.9,484.5 445,484.8 C444,485.1 443,485.3 441.9,485.4 C440.9,485.4 439.4,485.2 438.9,485.2" stroke-width="3.6"/><path d="M431.9,418.6 C432.4,418.4 433.8,417.9 434.8,417.8 C435.8,417.6 436.9,417.6 437.9,417.7 C438.9,417.7 440,417.9 441,418.3 C442,418.6 443,419 444,419.6 C445,420.1 446,420.8 446.9,421.6 C447.9,422.3 448.8,423.2 449.7,424.2 C450.6,425.2 451.4,426.2 452.2,427.4 C453,428.5 453.8,429.8 454.5,431.1 C455.2,432.4 455.8,433.8 456.4,435.2 C457,436.7 457.5,438.2 458,439.7 C458.4,441.2 458.8,442.8 459.1,444.4 C459.5,446 459.7,447.7 459.9,449.3 C460.1,450.9 460.2,452.6 460.2,454.2 C460.2,455.9 460.2,457.5 460,459.1 C459.9,460.7 459.7,462.3 459.4,463.8 C459.2,465.3 458.8,466.8 458.4,468.2 C458,469.7 457.5,471 457,472.3 C456.4,473.6 455.8,474.9 455.1,476 C454.5,477.1 453.8,478.2 453,479.1 C452.2,480.1 451.4,480.9 450.5,481.7 C449.7,482.4 448.8,483.1 447.8,483.6 C446.9,484.1 445.9,484.5 445,484.8 C444,485.1 443,485.3 441.9,485.4 C440.9,485.4 439.4,485.2 438.9,485.2" stroke="#fff" stroke-width="1.6" stroke-dasharray="2 1.6" stroke-linecap="butt"/>
<ellipse cx="421" cy="459" rx="23.5" ry="30.5" transform="rotate(-10 421 459)" stroke-width="1.8" fill="#fff"/>
<ellipse cx="421.5" cy="459" rx="20.5" ry="27" transform="rotate(-10 421.5 459)" stroke-width="1.3"/>
<ellipse cx="420" cy="460" rx="16" ry="21.5" transform="rotate(-10 420 460)" stroke-width="1.2"/>
<ellipse cx="417" cy="460" rx="11" ry="14" transform="rotate(-10 417 460)" stroke-width="1.6"/>
<ellipse cx="416" cy="461" rx="6.5" ry="8.8" transform="rotate(-10 416 461)" stroke-width="1.5"/>
<ellipse cx="414.5" cy="460.5" rx="3.5" ry="5" transform="rotate(-10 414.5 460.5)" stroke-width="1.2" fill="#555"/>
<polyline points="412.5,458 416.5,458" stroke-width="0.9" stroke="#fff"/>
<polyline points="412.5,462 416.5,462" stroke-width="0.9" stroke="#fff"/>
<ellipse cx="410" cy="443" rx="1.2" ry="1.3" stroke-width="1"/>
<ellipse cx="425" cy="478" rx="1.2" ry="1.3" stroke-width="1"/>
<ellipse cx="420" cy="477" rx="1.2" ry="1.3" stroke-width="1"/>
<polyline points="400.7,462.3 376,469.6" stroke-width="2.6"/>
<polyline points="399,462.8 377.5,469.2" stroke-width="0.8" stroke="#fff"/>
<polyline points="373,470.6 359.5,474.6" stroke-width="2.6"/>
<polyline points="371.5,471 361,474.2" stroke-width="0.8" stroke="#fff"/>
<polyline points="356.5,475.5 341.4,480.4" stroke-width="1.8"/>
<ellipse cx="323.5" cy="494.5" rx="17.5" ry="23.6" transform="rotate(-6 323.5 494.5)" stroke-width="2.4" fill="#fff"/>
<ellipse cx="319.5" cy="494.8" rx="17" ry="23.4" transform="rotate(-6 319.5 494.8)" stroke-width="1.8" fill="#fff"/>
<ellipse cx="320" cy="496" rx="12.6" ry="18" transform="rotate(-6 320 496)" stroke-width="1.6"/>
<path d="M310.1,491.7 C310.2,491.3 310.3,490.1 310.5,489.4 C310.7,488.7 310.9,487.9 311.2,487.3 C311.5,486.6 311.8,485.9 312.1,485.3 C312.4,484.7 312.8,484.2 313.2,483.7 C313.6,483.2 314,482.7 314.5,482.4 C314.9,482 315.4,481.6 315.9,481.4 C316.3,481.1 316.9,480.9 317.4,480.8 C317.9,480.6 318.4,480.6 319,480.6 C319.5,480.5 320,480.6 320.6,480.7 C321.1,480.8 321.6,481 322.2,481.3 C322.7,481.5 323.2,481.9 323.7,482.2 C324.2,482.6 324.9,483.3 325.2,483.5" stroke-width="3"/>
<path d="M330,499 C330,499.4 329.9,500.5 329.8,501.3 C329.6,502 329.5,502.7 329.3,503.4 C329.1,504.1 328.8,504.8 328.5,505.4 C328.3,506 328,506.6 327.6,507.1 C327.3,507.7 326.9,508.2 326.5,508.6 C326.2,509.1 325.7,509.5 325.3,509.8 C324.9,510.2 324.4,510.5 323.9,510.7 C323.5,511 323,511.1 322.5,511.3 C322,511.4 321.5,511.4 321,511.5 C320.5,511.5 319.9,511.4 319.4,511.3 C318.9,511.2 318.4,511 317.9,510.7 C317.4,510.5 316.7,510 316.4,509.9" stroke-width="3.2"/>
<path d="M322,489 C321.2,488.9 318.2,487.8 317,488.5 C315.8,489.2 314.7,491.2 314.5,493 C314.3,494.8 314.9,497.8 316,499 C317.1,500.2 320.2,500.2 321,500.5" stroke-width="1.6"/>
<ellipse cx="319" cy="494" rx="3" ry="4" transform="rotate(-6 319 494)" stroke-width="1.3" fill="#fff"/>
<polyline points="322,500.5 328,498" stroke-width="1.5"/>
<ellipse cx="339" cy="481.5" rx="2.2" ry="2.4" stroke-width="1.3" fill="#fff"/>
<polyline points="285,493.6 300.6,488.2" stroke-width="1.3"/>
<polygon points="269.4,499 283.8,494.8 284,497 269.4,504" stroke-width="1.3" fill="#fff"/>
<polyline points="272,499 272,502.5" stroke-width="1"/>
<polyline points="275,498 275,501.5" stroke-width="1"/>
<polyline points="278,497 278,500.5" stroke-width="1"/>
<polyline points="281,496 281,499.5" stroke-width="1"/>
<ellipse cx="265.5" cy="502" rx="4.2" ry="4.8" stroke-width="1.5" fill="#fff"/>
<polyline points="263,500 268,500" stroke-width="1"/>
<path d="M540,402 C540.9,400.5 542.6,399.3 544,399 C545.4,398.7 547.7,399 548.5,400 C549.3,401 548.6,403.3 549,405 C549.4,406.7 550.2,408.5 551,410 C551.8,411.5 553.8,412.7 554,414 C554.2,415.3 553.3,417.3 552,418 C550.7,418.7 547.8,418.7 546,418 C544.2,417.3 542.2,415.7 541,414 C539.8,412.3 538.7,410 538.5,408 C538.3,406 539.1,403.5 540,402Z" stroke-width="1.8"/>
<path d="M542.5,404 C542.9,402.7 544.8,402.3 545.5,403 C546.2,403.7 546.9,406.3 547,408 C547.1,409.7 546.7,412.5 546,413 C545.3,413.5 543.6,412.5 543,411 C542.4,409.5 542.1,405.3 542.5,404Z" stroke-width="1.2" fill="#888"/>
<polygon points="556.5,398.5 560,392.5 566,390.5 572,393 575,400 574,406.5 568.5,411.5 562,411 557.5,406" stroke-width="1.8"/>
<ellipse cx="563" cy="401.5" rx="6.5" ry="9.5" transform="rotate(-10 563 401.5)" stroke-width="1.5"/>
<ellipse cx="562.5" cy="401.5" rx="2.6" ry="4" transform="rotate(-10 562.5 401.5)" stroke-width="1.5" fill="#fff"/>
<path d="M561.5,398.5 C561.8,398.8 563.5,399.4 563.5,400 C563.5,400.6 561.5,401.3 561.5,402 C561.5,402.7 563.2,403.7 563.5,404" stroke-width="1.1"/>
<polyline points="566,391.5 570,396 572,404 568.5,411" stroke-width="1.2"/>
<path d="M601,401.6 L613,397 A7,11.5 0 0 1 613,420 L601,423.6 A7,11 0 0 1 601,401.6 Z" stroke-width="1.8" fill="#fff"/>
<polyline points="610.5,398 610.5,420" stroke-width="1"/>
<path d="M611,397.5 C611.5,398.2 613.3,399.9 614,402 C614.7,404.1 615.2,407.3 615,410 C614.8,412.7 613.7,416.2 613,418 C612.3,419.8 611.3,420.1 611,420.5" stroke-width="2.2"/>
<ellipse cx="601" cy="412.6" rx="7" ry="11" transform="rotate(-10 601 412.6)" stroke-width="1.8" fill="#fff"/>
<ellipse cx="601.8" cy="412" rx="4" ry="6.5" transform="rotate(-10 601.8 412)" stroke-width="1.4"/>
<polygon points="625,401 648,394.5 650,403 627,409" stroke-width="1.5" fill="#fff"/>
<ellipse cx="640" cy="400.8" rx="1.9" ry="4" transform="rotate(-15 640 400.8)" stroke-width="1.4" fill="#fff"/>
<ellipse cx="636.7" cy="401.7" rx="1.9" ry="4" transform="rotate(-15 636.7 401.7)" stroke-width="1.4" fill="#fff"/>
<ellipse cx="633.4" cy="402.6" rx="1.9" ry="4" transform="rotate(-15 633.4 402.6)" stroke-width="1.4" fill="#fff"/>
<ellipse cx="630.1" cy="403.6" rx="1.9" ry="4" transform="rotate(-15 630.1 403.6)" stroke-width="1.4" fill="#fff"/>
<ellipse cx="626.8" cy="404.5" rx="1.9" ry="4" transform="rotate(-15 626.8 404.5)" stroke-width="1.4" fill="#fff"/>
<polygon points="647.5,389 653.5,386 659.5,387 663,392.5 662.5,399.5 657.5,403 650.5,403.3 647,397" stroke-width="1.8" fill="#fff"/>
<polyline points="653.5,386.2 656,391.5 662.8,393" stroke-width="1.2"/>
<polyline points="656,391.5 656.5,403" stroke-width="1.2"/>
<polyline points="647.3,393 652,392" stroke-width="1"/></g>
<g fill="none" stroke="#000" stroke-linejoin="round" stroke-linecap="round" stroke-width="1.5"><path d="M736,486 C736.3,484.1 736.4,481 737.2,479 C738,477 739.6,475.6 741,474 C742.4,472.4 743.4,471 745.4,469.6 C747.4,468.2 751,466.9 753,465.8 C755,464.6 756.2,463.9 757.5,463 C758.8,462.1 759.1,460.9 760.8,460.2 C762.4,459.6 765.6,458.8 767.4,459.1 C769.2,459.5 770.9,461.3 771.8,462.4 C772.7,463.6 772.5,465.3 772.9,466.3 C773.3,467.3 773.1,467.5 774,468.5 C774.9,469.5 777.4,471 778.4,472.4 C779.4,473.7 779.9,475.2 780,476.8 C780.1,478.3 780,480.4 779,481.7 C778,483 775.8,484.3 774,484.4 C772.2,484.6 770,483.5 768.5,482.8 C767,482.1 766,480 765.2,480 C764.5,480 765.5,481.6 764,482.8 C762.5,484 758.9,485.9 756.4,487.2 C753.9,488.5 751.5,489.8 749.2,490.5 C747,491.2 744.6,491.2 742.6,491.6 C740.6,492 738.4,492.9 737.2,492.7 C736,492.5 735.7,491.6 735.5,490.5 C735.3,489.4 735.7,487.9 736,486Z" stroke-width="1.9" fill="#fff"/>
<path d="M772.9,466.3 C772.2,466.9 770.1,468.5 769,470 C767.9,471.5 767.1,473.8 766.5,475.5 C765.9,477.2 765.4,479.2 765.2,480" stroke-width="1.6"/>
<path d="M757.5,463 C757.9,464 759.3,466.7 760,469 C760.7,471.3 761.4,474.4 761.5,477 C761.6,479.6 760.7,483.2 760.5,484.5" stroke-width="1.4"/>
<path d="M760.8,460.5 C761.2,461.6 762.9,464.6 763.5,467 C764.1,469.4 764.4,472.4 764.5,475 C764.6,477.6 764.1,481.5 764,482.8" stroke-width="1.4"/>
<path d="M752,466.5 C752.4,467.6 754,470.6 754.5,473 C755,475.4 755.2,478.5 755,481 C754.8,483.5 753.8,486.8 753.5,488" stroke-width="1.2"/>
<ellipse cx="745.5" cy="482" rx="6" ry="8.5" transform="rotate(-35 745.5 482)" stroke-width="1.6" fill="#fff"/>
<ellipse cx="744.5" cy="483.5" rx="3.8" ry="5.3" transform="rotate(-35 744.5 483.5)" stroke-width="1.2" fill="#333"/>
<ellipse cx="743" cy="485" rx="1.5" ry="1.2" stroke-width="0.8" fill="#fff"/>
<ellipse cx="746.2" cy="481.2" rx="1.5" ry="1.2" stroke-width="0.8" fill="#fff"/>
<ellipse cx="737.8" cy="489.5" rx="2.2" ry="3.2" transform="rotate(-35 737.8 489.5)" stroke-width="1.4" fill="#fff"/>
<ellipse cx="768.5" cy="462.5" rx="2.6" ry="1.6" transform="rotate(20 768.5 462.5)" stroke-width="1.2" fill="#444"/>
<polyline points="736,506 752,508.5" stroke-width="4.2"/>
<polyline points="737.5,506.3 750.5,508.3" stroke-width="1.4" stroke="#fff" stroke-dasharray="1 1.5"/>
<path d="M704,521 C703.5,520.2 702.2,519.2 702.5,518 C702.8,516.8 705.4,515 706,513.5 C706.6,512 705.1,510.5 706,509 C706.9,507.5 709.3,505.8 711.5,504.5 C713.7,503.2 717,502.4 719,501.5 C721,500.6 722.2,499.4 723.5,499 C724.8,498.6 725.8,498.3 726.5,499 C727.2,499.7 728.2,501.8 728,503 C727.8,504.2 725.2,504.8 725,506 C724.8,507.2 726.8,509 726.5,510.5 C726.2,512 725.2,513.8 723.5,515 C721.8,516.2 718.5,517.2 716,518 C713.5,518.8 710.2,518.8 708.5,519.5 C706.8,520.2 706.2,522.2 705.5,522.5 C704.8,522.8 704.5,521.8 704,521Z" stroke-width="1.7" fill="#fff"/>
<ellipse cx="709" cy="511.5" rx="3" ry="4" transform="rotate(-20 709 511.5)" stroke-width="1.3" fill="#999"/>
<path d="M713,504 C713.8,504.7 717,506.3 718,508 C719,509.7 718.8,513 719,514" stroke-width="1.2"/>
<ellipse cx="704.5" cy="520.5" rx="2.2" ry="1.8" stroke-width="1.3" fill="#fff"/>
<path d="M740,521 C741.2,520.1 744,519.8 746,520.2 C748,520.6 749.2,521.8 752,523.2 C754.8,524.6 759.2,527.4 762.5,528.5 C765.8,529.6 769,528.8 771.5,530 C774,531.2 775.2,534.6 777.5,536 C779.8,537.4 782.6,537.6 785,538.2 C787.4,538.8 790.2,538.6 791.7,539.7 C793.2,540.8 794.1,543.4 794,545 C793.9,546.6 793,548.3 791,549.4 C789,550.5 786.5,550.9 782,551.7 C777.5,552.5 768,553.4 764,554 C760,554.6 760,556.4 758,555.4 C756,554.4 754.2,549.7 752,548 C749.8,546.3 746.8,545.8 744.5,545 C742.2,544.2 740,544.2 738.5,543.4 C737,542.6 736.6,541.1 735.5,540.4 C734.4,539.7 732,540.2 731.7,539 C731.5,537.8 732.9,535.2 734,533 C735.1,530.8 737.5,527.5 738.5,525.5 C739.5,523.5 738.8,521.9 740,521Z" stroke-width="1.8" fill="#fff"/>
<ellipse cx="742.5" cy="523" rx="3" ry="2" stroke-width="1.4"/>
<polyline points="744,525 762,531" stroke-width="1.2"/>
<polyline points="743,527.5 760,533" stroke-width="1.2"/>
<path d="M735,538 C736.2,537.7 739.5,535.7 742,536 C744.5,536.3 747.7,538.2 750,540 C752.3,541.8 755,545.8 756,547" stroke-width="1.3"/>
<polyline points="756,547 785,542" stroke-width="1.2"/>
<ellipse cx="786" cy="542" rx="4" ry="2.5" stroke-width="1.4"/>
<polyline points="770,531 778,541" stroke-width="1.1"/>
<path d="M648.4,547.4 L662.8,535.7 L668.2,534.4 L682.6,524.9 C685,523.5 687,522.6 689,522.6 C693,522.6 697,525 699,529 C701,533 701,537 700,541 L699.7,551 L666.4,552.8 Z" stroke-width="1.8" fill="#fff"/>
<polyline points="657.4,548.3 684.4,525.8" stroke-width="1.4"/>
<polyline points="662.8,547.4 683.5,527.6" stroke-width="1.2"/>
<polyline points="674.5,547.4 689.8,534.4" stroke-width="1.3"/>
<polyline points="682.6,549.2 699.7,536.2" stroke-width="1.3"/>
<polygon points="666.4,552.8 671.8,550.1 693.4,553.7 700.6,554.6 703.3,560.9 699.7,563.6 689.8,561.8 666.4,558.2" stroke-width="1.6" fill="#fff"/>
<polyline points="671.8,550.1 690.7,558.2 693.4,553.7" stroke-width="1.2"/>
<polygon points="666.4,558.2 689.8,561.8 689.8,579.8 666.4,576.2" stroke-width="1.6" fill="#fff"/>
<polygon points="689.8,561.8 699.7,563.6 699.7,580.7 689.8,579.8" stroke-width="1.6" fill="#fff"/>
<polygon points="669.1,562.7 687.1,564.5 687.1,572.6 669.1,570.8" stroke-width="1.8" fill="#fff"/>
<polygon points="671.5,565 685,566.5 685,570.5 671.5,569" stroke-width="1.3"/>
<path d="M634,552.8 C634.8,551.1 636.7,549.1 638.5,548.3 C640.3,547.5 643.1,547.6 644.8,547.9 C646.4,548.2 646.8,549.7 648.4,550.1 C650,550.5 652.6,550 654.7,550.1 C656.8,550.2 659.4,550.4 661,551 C662.6,551.6 663.7,552.7 664.6,553.7 C665.5,554.8 666.2,554.8 666.4,557.3 C666.5,559.8 665.5,565.5 665.5,569 C665.5,572.5 666.5,575.3 666.4,578 C666.2,580.7 665.5,583.6 664.6,585.2 C663.7,586.9 662.4,587.8 661,587.9 C659.6,588 658.8,586.9 656.5,586.1 C654.2,585.4 650.4,584.8 647.5,583.4 C644.6,582 641.5,580.4 639.4,578 C637.3,575.6 635.8,572.3 634.9,569 C634,565.7 634.1,560.9 634,558.2 C633.9,555.5 633.2,554.4 634,552.8Z" stroke-width="1.8" fill="#fff"/>
<ellipse cx="651" cy="569.5" rx="12.6" ry="14" transform="rotate(-10 651 569.5)" stroke-width="1.8" fill="#fff"/>
<ellipse cx="652" cy="569.5" rx="9" ry="11.7" transform="rotate(-10 652 569.5)" stroke-width="1.3"/>
<path d="M643,560 C643.8,559.5 646.2,557.2 648,557 C649.8,556.8 653,558.7 654,559" stroke-width="1.2"/>
<ellipse cx="654" cy="564" rx="1.5" ry="2" stroke-width="1.1"/>
<ellipse cx="636.5" cy="556" rx="1.2" ry="1.2" stroke-width="1"/>
<ellipse cx="662" cy="584" rx="1.2" ry="1.2" stroke-width="1"/>
<path d="M724,577 C724.5,573.7 729.8,575.2 733,574 C736.2,572.8 741,571 743.5,569.8 C746,568.6 746.4,567.1 748,567 C749.6,566.9 752.1,567 753,569 C753.9,571 753.5,575.6 753.5,579 C753.5,582.4 753.9,587.3 753,589.5 C752.1,591.7 749.8,591.6 748,592 C746.2,592.4 745,591.7 742,592 C739,592.3 733,596.5 730,594 C727,591.5 723.5,580.3 724,577Z" stroke-width="1.8" fill="#fff"/>
<ellipse cx="748" cy="568" rx="5" ry="2.3" stroke-width="1.4" fill="#fff"/>
<polyline points="743,569.5 742.5,592" stroke-width="1.3"/>
<path d="M730,574.5 C730.3,575.8 731.5,579.3 732,582 C732.5,584.7 732.7,589.1 732.8,590.5" stroke-width="1.3"/>
<path d="M735.8,573 C736,574.5 736.8,579.1 737,582 C737.2,584.9 737,589.1 737,590.5" stroke-width="1.2"/>
<polygon points="700.6,562.5 702.6,554.2 706,551.5 719.5,554.2 723.5,555.5 724.9,558 725.5,575.5 727.6,580 728,588 726,594 720,598 712.7,598 705,593 701,585 700.6,579" stroke-width="1.8" fill="#fff"/>
<polyline points="700.6,562.5 724.9,558" stroke-width="1.5"/>
<path d="M706,579.5 C706.5,580.6 707.7,584.2 709,586 C710.3,587.8 712.2,589.2 714,590 C715.8,590.8 718.3,591 720,590.5 C721.7,590 723,588.4 724,587 C725,585.6 725.7,582.8 726,582" stroke-width="1.4"/>
<path d="M716.5,565.5 C716,565.7 714.2,565.7 713.5,566.5 C712.8,567.3 712.4,569.4 712.5,570.5 C712.6,571.6 713.2,572.7 714,573 C714.8,573.3 716.5,572.6 717,572.5" stroke-width="1.7"/>
<path d="M718.5,589 C718.8,588.8 719.9,587.5 720.5,587.5 C721.1,587.5 722,588.4 722,589 C722,589.6 720.8,590.7 720.5,591" stroke-width="1.2"/>
<ellipse cx="710" cy="555.5" rx="2" ry="1.3" stroke-width="1.1"/>
<ellipse cx="716" cy="556.5" rx="2" ry="1.3" stroke-width="1.1"/>
<polyline points="703,556 705,560" stroke-width="1.1"/>
<path d="M602.5,585 C603.1,583.3 605.5,580.8 607,580 C608.5,579.2 610.2,579.8 611.5,580.5 C612.8,581.2 613.3,583.6 614.5,584 C615.7,584.4 616.8,583.4 618.5,583 C620.2,582.6 622.9,581.4 625,581.5 C627.1,581.6 629.2,582.4 631,583.5 C632.8,584.6 634.8,586.2 636,588 C637.2,589.8 638.2,592 638.5,594 C638.8,596 638.3,598 638,600 C637.7,602 636.6,604.2 636.5,606 C636.4,607.8 637.8,609.6 637.5,611 C637.2,612.4 636.2,613.8 635,614.5 C633.8,615.2 631.7,614.8 630,615 C628.3,615.2 627.1,615.6 625,616 C622.9,616.4 620,617.5 617.5,617.5 C615,617.5 612.1,616.9 610,616 C607.9,615.1 606.4,613.5 605,612 C603.6,610.5 602.2,608.7 601.5,607 C600.8,605.3 600.6,603.6 601,602 C601.4,600.4 603.6,599.5 604,597.5 C604.4,595.5 603.8,592.1 603.5,590 C603.2,587.9 601.9,586.7 602.5,585Z" stroke-width="2" fill="#fff"/>
<path d="M603,585 C603.4,583.8 605.8,581.8 607.5,581.5 C609.2,581.2 612.3,582.7 613.5,583.5 C614.7,584.3 615.1,585.4 614.5,586.5 C613.9,587.6 611.6,589.6 610,590 C608.4,590.4 606.2,589.8 605,589 C603.8,588.2 602.6,586.2 603,585Z" stroke-width="1.8"/>
<path d="M610,583.5 C611.7,583.9 616.7,584.9 620,586 C623.3,587.1 627.5,588.1 630,590 C632.5,591.9 634,595 635,597.5 C636,600 635.8,603.8 636,605" stroke-width="1.8"/>
<path d="M614.5,586.5 C615.8,586.9 619.8,587.8 622,589 C624.2,590.2 626.5,592.2 628,594 C629.5,595.8 630.5,599 631,600" stroke-width="1.5"/>
<ellipse cx="620" cy="603" rx="6.5" ry="7" transform="rotate(-30 620 603)" stroke-width="2" fill="#fff"/>
<path d="M614,600 C615,599.3 617.8,596.3 620,596 C622.2,595.7 625.8,597.7 627,598" stroke-width="1.8"/>
<path d="M606,596 C606.5,595.7 607.8,594.7 609,594 C610.2,593.3 611.7,592.5 613,592 C614.3,591.5 616.3,591.2 617,591" stroke-width="2.5" stroke-dasharray="2 1"/>
<ellipse cx="602.5" cy="603" rx="1.8" ry="1.5" transform="rotate(-30 602.5 603)" stroke-width="1.4" fill="#222"/>
<ellipse cx="603" cy="607.5" rx="1.8" ry="1.5" transform="rotate(-30 603 607.5)" stroke-width="1.4" fill="#222"/>
<ellipse cx="606" cy="611" rx="1.8" ry="1.5" transform="rotate(-30 606 611)" stroke-width="1.4" fill="#222"/>
<ellipse cx="609.5" cy="614" rx="1.8" ry="1.5" transform="rotate(-30 609.5 614)" stroke-width="1.4" fill="#222"/>
<ellipse cx="613" cy="616" rx="1.8" ry="1.5" transform="rotate(-30 613 616)" stroke-width="1.4" fill="#222"/>
<ellipse cx="618" cy="616.5" rx="1.8" ry="1.5" transform="rotate(-30 618 616.5)" stroke-width="1.4" fill="#222"/>
<ellipse cx="622.5" cy="615.5" rx="1.8" ry="1.5" transform="rotate(-30 622.5 615.5)" stroke-width="1.4" fill="#222"/>
<ellipse cx="627" cy="613.5" rx="1.8" ry="1.5" transform="rotate(-30 627 613.5)" stroke-width="1.4" fill="#222"/>
<ellipse cx="631" cy="611" rx="1.8" ry="1.5" transform="rotate(-30 631 611)" stroke-width="1.4" fill="#222"/>
<ellipse cx="634" cy="607.5" rx="1.8" ry="1.5" transform="rotate(-30 634 607.5)" stroke-width="1.4" fill="#222"/>
<path d="M626,600 C626.5,601 628.8,604.2 629,606 C629.2,607.8 627.3,610.2 627,611" stroke-width="2.2"/>
<ellipse cx="608" cy="584.5" rx="2" ry="1.6" stroke-width="1.2"/>
<polygon points="582,606 590.5,598.5 593,601 584.5,609.5" stroke-width="1.4" fill="#fff"/>
<polyline points="584,604 586.6,606.6" stroke-width="1"/>
<polyline points="585.7,602.5 588.3,605.1" stroke-width="1"/>
<polyline points="587.4,601 590,603.6" stroke-width="1"/>
<polyline points="589.1,599.5 591.7,602.1" stroke-width="1"/>
<ellipse cx="579.8" cy="609.6" rx="4.6" ry="4.6" transform="rotate(-30 579.8 609.6)" stroke-width="1.7" fill="#fff"/>
<polyline points="577,607.5 582,611.5" stroke-width="1"/>
<polygon points="661,609 670,605.5 681,602.5 684,604 684.6,614 675,619.5 664,620.4 660.5,617" stroke-width="1.8" fill="#fff"/>
<polyline points="670,605.5 674,609 684,605" stroke-width="1.2"/>
<polyline points="674,609 674,619.5" stroke-width="1.2"/>
<polyline points="662,612 672,611" stroke-width="1.2"/>
<polyline points="663,616 671,615" stroke-width="1.2"/>
<ellipse cx="682" cy="603" rx="1.8" ry="1.8" stroke-width="1.3" fill="#fff"/>
<polygon points="743.6,601.5 752,601.5 752,635.6 743.6,635.6" stroke-width="1.5" fill="#fff"/>
<ellipse cx="747.8" cy="601.3" rx="4.2" ry="1.3" stroke-width="1.4" fill="#fff"/>
<polyline points="743.8,605 751.8,605" stroke-width="1.2"/>
<polyline points="743.8,608.5 751.8,608.5" stroke-width="1.2"/>
<polyline points="743.8,612 751.8,612" stroke-width="1.2"/>
<polyline points="743.8,615.5 751.8,615.5" stroke-width="1.2"/>
<polygon points="740.6,636 744,634.4 752,634.4 755.6,636.5 755.6,640.5 752,642.8 744,642.8 740.6,640.5" stroke-width="1.7" fill="#fff"/>
<polyline points="745,636.5 745,642.5" stroke-width="1.1"/>
<polyline points="751,636.5 751,642.5" stroke-width="1.1"/>
<polygon points="689,655.5 701.2,650 708.8,652.4 703,655 710.5,656 716,654.8 746,666.5 740,669 747.2,670.4 755.6,669.8 757,672.2 742.5,676 689,657.5" stroke-width="1.6" fill="#fff"/></g>
<g fill="none" stroke="#000" stroke-linejoin="round" stroke-linecap="round" stroke-width="1.5"><path d="M593,751 L603,747.6 A11.4,17.4 0 0 1 603,782.4 L593,785.8 A11.4,17.4 0 0 1 593,751 Z" stroke-width="1.8" fill="#fff"/>
<g fill="#222" stroke="none"><circle cx="598.1" cy="767.8" r="0.55"/><circle cx="601.2" cy="769" r="0.55"/><circle cx="601.8" cy="750.5" r="0.55"/><circle cx="595.8" cy="757.8" r="0.55"/><circle cx="612.8" cy="761.4" r="0.55"/><circle cx="609.6" cy="762.4" r="0.55"/><circle cx="602.8" cy="753.1" r="0.55"/><circle cx="608.9" cy="776" r="0.55"/><circle cx="605.5" cy="772.6" r="0.55"/><circle cx="602.8" cy="750.2" r="0.55"/><circle cx="609" cy="766.5" r="0.55"/><circle cx="610.2" cy="762.1" r="0.55"/><circle cx="610.7" cy="775.9" r="0.55"/><circle cx="610.9" cy="777.3" r="0.55"/><circle cx="603.4" cy="775.2" r="0.55"/><circle cx="605.6" cy="779.2" r="0.55"/><circle cx="593.2" cy="758" r="0.55"/><circle cx="611.9" cy="760.4" r="0.55"/><circle cx="603.9" cy="758" r="0.55"/><circle cx="602.2" cy="761.3" r="0.55"/><circle cx="600.7" cy="768.5" r="0.55"/><circle cx="608.2" cy="777.4" r="0.55"/><circle cx="610.4" cy="777.7" r="0.55"/><circle cx="603.6" cy="753.3" r="0.55"/><circle cx="611.8" cy="765" r="0.55"/><circle cx="604.9" cy="754.6" r="0.55"/><circle cx="610.4" cy="765.5" r="0.55"/><circle cx="594.9" cy="752.3" r="0.55"/><circle cx="598.2" cy="754.4" r="0.55"/><circle cx="601.1" cy="774.7" r="0.55"/><circle cx="601.4" cy="749.9" r="0.55"/><circle cx="606" cy="758.4" r="0.55"/><circle cx="607.4" cy="780.9" r="0.55"/><circle cx="595.5" cy="752.6" r="0.55"/><circle cx="601" cy="749.5" r="0.55"/><circle cx="596.1" cy="763.7" r="0.55"/><circle cx="602.3" cy="753.4" r="0.55"/><circle cx="603.1" cy="780.6" r="0.55"/><circle cx="610" cy="758.9" r="0.55"/><circle cx="602.4" cy="765.9" r="0.55"/><circle cx="606.7" cy="767.3" r="0.55"/><circle cx="605.2" cy="768.5" r="0.55"/><circle cx="612" cy="762.8" r="0.55"/><circle cx="603.5" cy="772.4" r="0.55"/><circle cx="596" cy="760.1" r="0.55"/><circle cx="612.9" cy="763.1" r="0.55"/><circle cx="599.8" cy="749.2" r="0.55"/><circle cx="602" cy="768" r="0.55"/><circle cx="594.3" cy="771.3" r="0.55"/><circle cx="601.9" cy="750.3" r="0.55"/><circle cx="605.3" cy="763.2" r="0.55"/><circle cx="605.4" cy="759.3" r="0.55"/><circle cx="609.2" cy="771.5" r="0.55"/><circle cx="610.5" cy="778.8" r="0.55"/><circle cx="597.6" cy="765" r="0.55"/><circle cx="603.3" cy="758.8" r="0.55"/><circle cx="598.6" cy="759.8" r="0.55"/><circle cx="601.2" cy="768.8" r="0.55"/><circle cx="597.9" cy="762.2" r="0.55"/><circle cx="606.4" cy="772.1" r="0.55"/><circle cx="596.8" cy="757.2" r="0.55"/><circle cx="606.9" cy="755" r="0.55"/><circle cx="596.1" cy="764.6" r="0.55"/><circle cx="603.6" cy="751.2" r="0.55"/><circle cx="598" cy="760.7" r="0.55"/><circle cx="609.2" cy="761.2" r="0.55"/><circle cx="607.4" cy="752.5" r="0.55"/><circle cx="601" cy="770.7" r="0.55"/><circle cx="610.4" cy="761.3" r="0.55"/><circle cx="594.2" cy="754.4" r="0.55"/><circle cx="601" cy="755" r="0.55"/><circle cx="612.1" cy="774.1" r="0.55"/><circle cx="594.7" cy="759.7" r="0.55"/><circle cx="610.4" cy="767.9" r="0.55"/><circle cx="607.9" cy="758.4" r="0.55"/><circle cx="593.7" cy="760.4" r="0.55"/><circle cx="607" cy="756.1" r="0.55"/><circle cx="599.2" cy="763.2" r="0.55"/><circle cx="600.6" cy="762.6" r="0.55"/><circle cx="605.5" cy="779.7" r="0.55"/><circle cx="610.9" cy="774.4" r="0.55"/><circle cx="606.5" cy="764.7" r="0.55"/><circle cx="597.4" cy="761.1" r="0.55"/><circle cx="603" cy="757.7" r="0.55"/><circle cx="612.8" cy="769" r="0.55"/><circle cx="611.8" cy="765.3" r="0.55"/><circle cx="594.6" cy="760.4" r="0.55"/><circle cx="606.5" cy="764.9" r="0.55"/><circle cx="605" cy="779.5" r="0.55"/><circle cx="603.9" cy="759.3" r="0.55"/><circle cx="601.1" cy="777.9" r="0.55"/><circle cx="604.9" cy="774.1" r="0.55"/><circle cx="597.4" cy="756.2" r="0.55"/><circle cx="606.4" cy="774.9" r="0.55"/><circle cx="598.8" cy="776.1" r="0.55"/><circle cx="608.7" cy="775.9" r="0.55"/><circle cx="598.5" cy="767.1" r="0.55"/><circle cx="601.2" cy="764.6" r="0.55"/><circle cx="594.6" cy="767.3" r="0.55"/><circle cx="597.7" cy="760.1" r="0.55"/><circle cx="601.2" cy="770.5" r="0.55"/><circle cx="603.6" cy="760.1" r="0.55"/><circle cx="595.3" cy="761.2" r="0.55"/><circle cx="595.8" cy="768.8" r="0.55"/><circle cx="606.4" cy="760" r="0.55"/><circle cx="601.3" cy="769" r="0.55"/><circle cx="607.7" cy="759.6" r="0.55"/><circle cx="610.2" cy="767.3" r="0.55"/><circle cx="600.5" cy="761.3" r="0.55"/><circle cx="604.7" cy="771.5" r="0.55"/><circle cx="603" cy="771.6" r="0.55"/><circle cx="600" cy="757.1" r="0.55"/><circle cx="605.4" cy="771" r="0.55"/><circle cx="593.7" cy="764.9" r="0.55"/><circle cx="604.7" cy="777.5" r="0.55"/><circle cx="610.8" cy="758.6" r="0.55"/><circle cx="613.6" cy="772.1" r="0.55"/><circle cx="597.9" cy="765.1" r="0.55"/><circle cx="598" cy="777" r="0.55"/><circle cx="609.6" cy="776.5" r="0.55"/><circle cx="610.4" cy="768.8" r="0.55"/><circle cx="608.3" cy="765.8" r="0.55"/><circle cx="595.7" cy="770" r="0.55"/><circle cx="608" cy="752.7" r="0.55"/><circle cx="609.4" cy="774.8" r="0.55"/><circle cx="612.9" cy="765.1" r="0.55"/><circle cx="608.5" cy="763.9" r="0.55"/><circle cx="604" cy="751.3" r="0.55"/><circle cx="592.6" cy="761.8" r="0.55"/><circle cx="607.1" cy="775.1" r="0.55"/><circle cx="595" cy="756.2" r="0.55"/><circle cx="598.9" cy="770.1" r="0.55"/><circle cx="607.2" cy="760.2" r="0.55"/><circle cx="599.4" cy="762.4" r="0.55"/><circle cx="599.3" cy="763.2" r="0.55"/><circle cx="594.5" cy="767.3" r="0.55"/><circle cx="611.9" cy="759.7" r="0.55"/><circle cx="605.1" cy="752.8" r="0.55"/><circle cx="609.1" cy="772.1" r="0.55"/><circle cx="606.7" cy="764.6" r="0.55"/><circle cx="603.9" cy="769.6" r="0.55"/><circle cx="596.9" cy="775.1" r="0.55"/><circle cx="611.6" cy="763.3" r="0.55"/><circle cx="603.7" cy="772.3" r="0.55"/><circle cx="594.6" cy="759.3" r="0.55"/><circle cx="597.6" cy="769.4" r="0.55"/><circle cx="597" cy="757.5" r="0.55"/><circle cx="610.7" cy="778.4" r="0.55"/><circle cx="600.6" cy="772.7" r="0.55"/><circle cx="604.3" cy="776.7" r="0.55"/><circle cx="602.7" cy="757.1" r="0.55"/><circle cx="601.6" cy="761.4" r="0.55"/><circle cx="595.2" cy="762.3" r="0.55"/><circle cx="601.7" cy="774.7" r="0.55"/><circle cx="603.4" cy="768.3" r="0.55"/><circle cx="605.2" cy="775.8" r="0.55"/><circle cx="610" cy="765.1" r="0.55"/><circle cx="604.5" cy="772.1" r="0.55"/><circle cx="609.4" cy="759.9" r="0.55"/><circle cx="600" cy="756.6" r="0.55"/><circle cx="599.5" cy="773.4" r="0.55"/><circle cx="610.5" cy="778.7" r="0.55"/><circle cx="608" cy="754.9" r="0.55"/></g>
<ellipse cx="593" cy="768.4" rx="11.4" ry="17.4" transform="rotate(-15 593 768.4)" stroke-width="1.8" fill="#fff"/>
<g fill="#222" stroke="none"><circle cx="584.3" cy="757.2" r="0.55"/><circle cx="587.9" cy="758" r="0.55"/><circle cx="583.4" cy="767.6" r="0.55"/><circle cx="596" cy="758.1" r="0.55"/><circle cx="602.3" cy="776.4" r="0.55"/><circle cx="596.5" cy="757" r="0.55"/><circle cx="600.7" cy="778.4" r="0.55"/><circle cx="590.4" cy="758.1" r="0.55"/><circle cx="589" cy="755.5" r="0.55"/><circle cx="601.9" cy="768.5" r="0.55"/><circle cx="584.5" cy="764" r="0.55"/><circle cx="584.9" cy="774.9" r="0.55"/><circle cx="588.7" cy="759.4" r="0.55"/><circle cx="592.2" cy="777.1" r="0.55"/><circle cx="599.4" cy="770.6" r="0.55"/><circle cx="586.2" cy="764.4" r="0.55"/><circle cx="586.1" cy="768.8" r="0.55"/><circle cx="585.4" cy="777.2" r="0.55"/><circle cx="595" cy="783" r="0.55"/><circle cx="598.2" cy="777.9" r="0.55"/><circle cx="586.2" cy="759.7" r="0.55"/><circle cx="588.8" cy="757.1" r="0.55"/><circle cx="594.5" cy="783.8" r="0.55"/><circle cx="597.6" cy="762.5" r="0.55"/><circle cx="585.3" cy="756.7" r="0.55"/><circle cx="602.1" cy="763.4" r="0.55"/><circle cx="593.6" cy="756.3" r="0.55"/><circle cx="583.6" cy="770.6" r="0.55"/><circle cx="585.6" cy="771.4" r="0.55"/><circle cx="597.8" cy="764" r="0.55"/><circle cx="602.7" cy="765" r="0.55"/><circle cx="582.9" cy="768.4" r="0.55"/><circle cx="591.2" cy="782.2" r="0.55"/><circle cx="599.7" cy="766.6" r="0.55"/><circle cx="585.3" cy="760.5" r="0.55"/><circle cx="590.7" cy="781.6" r="0.55"/><circle cx="602.2" cy="768.2" r="0.55"/><circle cx="602.4" cy="771.1" r="0.55"/><circle cx="601" cy="774.6" r="0.55"/><circle cx="589.4" cy="755.5" r="0.55"/><circle cx="590.3" cy="781.9" r="0.55"/><circle cx="600.3" cy="771.3" r="0.55"/><circle cx="599.6" cy="767.6" r="0.55"/><circle cx="591.9" cy="783.1" r="0.55"/><circle cx="592.5" cy="753" r="0.55"/><circle cx="603.9" cy="771.2" r="0.55"/><circle cx="601.7" cy="780.7" r="0.55"/><circle cx="601.7" cy="775.7" r="0.55"/><circle cx="601.1" cy="768" r="0.55"/><circle cx="598.1" cy="756.8" r="0.55"/><circle cx="603.3" cy="775" r="0.55"/><circle cx="601.3" cy="769.9" r="0.55"/><circle cx="584.5" cy="766" r="0.55"/><circle cx="597.2" cy="760.8" r="0.55"/><circle cx="586.2" cy="774.4" r="0.55"/><circle cx="600.9" cy="766.7" r="0.55"/><circle cx="594.7" cy="780.2" r="0.55"/><circle cx="598.1" cy="756.6" r="0.55"/><circle cx="591.9" cy="780.2" r="0.55"/><circle cx="594" cy="778.3" r="0.55"/><circle cx="583.4" cy="759" r="0.55"/><circle cx="597.3" cy="781.1" r="0.55"/><circle cx="589.1" cy="755" r="0.55"/><circle cx="590.8" cy="780.9" r="0.55"/><circle cx="592.4" cy="777.7" r="0.55"/><circle cx="592.7" cy="782.6" r="0.55"/><circle cx="595.8" cy="781.7" r="0.55"/><circle cx="592.2" cy="781.2" r="0.55"/><circle cx="599.8" cy="770.4" r="0.55"/><circle cx="588.8" cy="757.3" r="0.55"/><circle cx="597.3" cy="762.5" r="0.55"/><circle cx="593.2" cy="755.8" r="0.55"/><circle cx="596.5" cy="756.4" r="0.55"/><circle cx="600.1" cy="762.1" r="0.55"/><circle cx="592" cy="754.8" r="0.55"/><circle cx="594.7" cy="782.8" r="0.55"/><circle cx="587.8" cy="775.1" r="0.55"/><circle cx="601.7" cy="776.6" r="0.55"/><circle cx="598.2" cy="782" r="0.55"/><circle cx="586.5" cy="775.3" r="0.55"/><circle cx="598.7" cy="775.3" r="0.55"/><circle cx="598.2" cy="778.3" r="0.55"/><circle cx="592.7" cy="783.1" r="0.55"/><circle cx="602.8" cy="772.7" r="0.55"/><circle cx="586.8" cy="760.8" r="0.55"/><circle cx="597.6" cy="759.8" r="0.55"/><circle cx="587" cy="753.4" r="0.55"/><circle cx="586.9" cy="771.4" r="0.55"/><circle cx="594.1" cy="783.5" r="0.55"/><circle cx="592.6" cy="756.8" r="0.55"/><circle cx="582.6" cy="762.9" r="0.55"/><circle cx="603.3" cy="775.1" r="0.55"/><circle cx="583.6" cy="762" r="0.55"/><circle cx="592.8" cy="783.8" r="0.55"/><circle cx="588.7" cy="779.5" r="0.55"/><circle cx="590.6" cy="757.4" r="0.55"/><circle cx="586" cy="757.3" r="0.55"/><circle cx="592.1" cy="782" r="0.55"/><circle cx="599.1" cy="774.7" r="0.55"/><circle cx="600" cy="782" r="0.55"/><circle cx="602.6" cy="773.3" r="0.55"/><circle cx="590.1" cy="757.4" r="0.55"/><circle cx="599.8" cy="766" r="0.55"/><circle cx="598.5" cy="758.6" r="0.55"/><circle cx="598.9" cy="761" r="0.55"/><circle cx="583" cy="759.3" r="0.55"/><circle cx="602.8" cy="776.8" r="0.55"/><circle cx="589.4" cy="780.5" r="0.55"/><circle cx="593.5" cy="780.1" r="0.55"/><circle cx="600.5" cy="769.4" r="0.55"/><circle cx="586.1" cy="774.3" r="0.55"/><circle cx="599.7" cy="760" r="0.55"/><circle cx="599.4" cy="780.3" r="0.55"/><circle cx="591.1" cy="753.1" r="0.55"/><circle cx="593.6" cy="759.9" r="0.55"/><circle cx="601.6" cy="771.6" r="0.55"/><circle cx="592.5" cy="782.1" r="0.55"/><circle cx="586.3" cy="777.5" r="0.55"/><circle cx="602.2" cy="779.9" r="0.55"/></g>
<ellipse cx="598.5" cy="769" rx="4.8" ry="8.8" transform="rotate(-15 598.5 769)" stroke-width="1.6" fill="#fff"/>
<ellipse cx="593.5" cy="768.4" rx="6.5" ry="10.5" transform="rotate(-15 593.5 768.4)" stroke-width="1.2"/>
<path d="M621.8,741.4 C625.5,739.8 636.6,735.1 644,732 C651.4,728.9 661.7,724.2 666.2,722.8 C670.7,721.4 669.4,722.4 671,723.4 C672.6,724.4 674.6,725.8 676,729 C677.4,732.2 678.6,739.5 679.4,742.6 C680.2,745.7 680.8,746.2 680.6,747.4 C680.4,748.6 682,747.9 678.2,749.8 C674.4,751.7 664.8,755.8 658,758.8 C651.2,761.8 640.8,766.3 637.4,767.8" stroke-width="1.8" fill="#fff"/>
<ellipse cx="669.5" cy="731" rx="4.8" ry="7.2" transform="rotate(-20 669.5 731)" stroke-width="1.6" fill="#fff"/>
<ellipse cx="627.2" cy="755.8" rx="11.4" ry="14.4" transform="rotate(-25 627.2 755.8)" stroke-width="1.8" fill="#fff"/>
<ellipse cx="627.8" cy="755.6" rx="9.8" ry="12.8" transform="rotate(-25 627.8 755.6)" stroke-width="1.2"/>
<path d="M686,715.6 L710,704.4 L746.4,691.8 L796.8,672.2 L806,666 C810,664.5 815,667 817.5,672 C820,678 819.5,688 816,696 C813.5,701 809,704 804.5,704.5 L796.8,707.2 L760.4,718.4 L693.2,743.6 C688,745.5 682,743 679.5,737.5 C677,731 677.5,723 681,718.5 C682.5,716.8 684,716 686,715.6 Z" stroke-width="1.8" fill="#fff"/>
<ellipse cx="690.2" cy="733.6" rx="6.2" ry="8.8" transform="rotate(-20 690.2 733.6)" stroke-width="1.7" fill="#fff"/>
<ellipse cx="691" cy="733.8" rx="4" ry="6.5" transform="rotate(-20 691 733.8)" stroke-width="1.2"/>
<path d="M794.8,672.8 C795.2,674.7 796.5,680.3 797,684 C797.5,687.7 798,691.4 798,695.2 C798,699 797.2,705 797,707" stroke-width="1.5"/>
<path d="M806.5,666.5 C807.2,667.6 809.6,670.2 810.5,673 C811.4,675.8 812.2,679.2 812,683 C811.8,686.8 810.7,692.5 809.5,696 C808.3,699.5 805.8,702.7 805,704" stroke-width="1.2"/>
<polygon points="792,673.5 801,670 803,672.5 794.5,676" stroke-width="1.2"/>
<polyline points="757,703 759.6,716" stroke-width="1.2"/>
<polygon points="690.8,689.6 695.6,684 711.6,680.8 756.4,697.6 758,701.6 737.2,708 736,712 734,708.5 721,709.6 716.4,706.4 703.6,704.8 700.4,696.8 692.4,693.6" stroke-width="1.8" fill="#fff"/>
<polyline points="692.4,693.6 737.2,708" stroke-width="1.4"/>
<path d="M699,686.5 C699.5,685.8 701.2,684.2 703,684 C704.8,683.8 709.5,684.8 710,685.5 C710.5,686.2 707.7,688 706,688.5 C704.3,689 701.2,688.8 700,688.5 C698.8,688.2 698.5,687.2 699,686.5Z" stroke-width="1.4"/>
<path d="M735,699.5 C735.4,698.7 737,697.2 739,697 C741,696.8 746.3,697.7 747,698.5 C747.7,699.3 744.8,701.4 743,702 C741.2,702.6 737.8,702.4 736.5,702 C735.2,701.6 734.6,700.3 735,699.5Z" stroke-width="1.4"/>
<path d="M742,751 L742,748.5 A10,5.5 0 0 1 742,759.5 L742,762 A10,5.5 0 0 1 742,751 Z" stroke-width="1.6" fill="#fff"/>
<polyline points="732,754 732,757" stroke-width="1.6"/>
<polyline points="752,754 752,757" stroke-width="1.6"/>
<path d="M732,754 C732.3,754.8 732.3,757.2 734,758.5 C735.7,759.8 739.3,761.5 742,761.5 C744.7,761.5 748.3,759.8 750,758.5 C751.7,757.2 751.7,754.8 752,754" stroke-width="1.6"/>
<ellipse cx="742" cy="754" rx="10" ry="5.5" stroke-width="1.6" fill="#fff"/>
<ellipse cx="742" cy="753.8" rx="3.2" ry="1.9" stroke-width="1.3" fill="#777"/>
<polygon points="786,720 794.5,720 794.5,732 796,736 796,745 785,745 785,736 786,732" stroke-width="1.5" fill="#fff"/>
<ellipse cx="790.2" cy="720" rx="4.2" ry="1.5" stroke-width="1.4" fill="#fff"/>
<polyline points="786.2,723 794.3,723" stroke-width="1.4"/>
<polyline points="786.2,726.5 794.3,726.5" stroke-width="1.4"/>
<polyline points="786.2,730 794.3,730" stroke-width="1.4"/>
<polygon points="783.6,746.5 787,744 795,744 798,746.5 798,752.5 795,755.2 787,755.2 783.6,752.5" stroke-width="1.7" fill="#fff"/>
<polyline points="788,746.5 788,755" stroke-width="1.1"/>
<polyline points="794,746.5 794,755" stroke-width="1.1"/>
<polygon points="737.5,767 746.5,767 746.5,795.5 737.5,795.5" stroke-width="1.5" fill="#fff"/>
<ellipse cx="742" cy="767" rx="4.5" ry="1.5" stroke-width="1.4" fill="#fff"/>
<polyline points="737.7,770 746.3,770" stroke-width="1.3"/>
<polyline points="737.7,773.5 746.3,773.5" stroke-width="1.3"/>
<polyline points="737.7,777 746.3,777" stroke-width="1.3"/>
<polyline points="737.7,780.5 746.3,780.5" stroke-width="1.3"/>
<polyline points="737.7,784 746.3,784" stroke-width="1.3"/>
<polygon points="733.4,797 737,794.6 748,794.6 751.6,797 751.6,802.5 748,805 737,805 733.4,802.5" stroke-width="1.7" fill="#fff"/>
<polyline points="738.5,797 738.5,804.5" stroke-width="1.1"/>
<polyline points="746.5,797 746.5,804.5" stroke-width="1.1"/></g>
<g fill="none" stroke="#000" stroke-linejoin="round" stroke-linecap="round" stroke-width="1.5"><path d="M527.5,725 C528.1,723.5 529.6,722.6 531,722.3 C532.4,722 534.9,722 536,723 C537.1,724 536.8,726.3 537.5,728 C538.2,729.7 539.7,731.3 540,733 C540.3,734.7 540.3,736.9 539.5,738 C538.7,739.1 536.6,739.8 535,739.6 C533.4,739.4 531.2,738.4 530,737 C528.8,735.6 527.9,733 527.5,731 C527.1,729 526.9,726.5 527.5,725Z" stroke-width="1.8"/>
<path d="M530.5,727 C530.8,725.8 532.2,725.5 533,726 C533.8,726.5 534.8,728.5 535,730 C535.2,731.5 535.1,734.5 534.5,735 C533.9,735.5 532.2,734.3 531.5,733 C530.8,731.7 530.2,728.2 530.5,727Z" stroke-width="1.2" fill="#888"/>
<polygon points="547,720 570,712 572.5,720.5 549.5,728" stroke-width="1.5" fill="#fff"/>
<ellipse cx="548.5" cy="724" rx="1.4" ry="4" transform="rotate(-18 548.5 724)" stroke-width="1.2" fill="#fff"/>
<ellipse cx="551.5" cy="723" rx="1.4" ry="4" transform="rotate(-18 551.5 723)" stroke-width="1.2" fill="#fff"/>
<ellipse cx="554.5" cy="721.9" rx="1.4" ry="4" transform="rotate(-18 554.5 721.9)" stroke-width="1.2" fill="#fff"/>
<ellipse cx="557.5" cy="720.9" rx="1.4" ry="4" transform="rotate(-18 557.5 720.9)" stroke-width="1.2" fill="#fff"/>
<ellipse cx="560.5" cy="719.8" rx="1.4" ry="4" transform="rotate(-18 560.5 719.8)" stroke-width="1.2" fill="#fff"/>
<path d="M569.5,710 C570.2,707.9 572.3,706.3 574,705.5 C575.7,704.7 577.9,704.4 579.5,705 C581.1,705.6 582.8,707.2 583.5,709 C584.2,710.8 584.5,713.9 584,716 C583.5,718.1 582.2,720.5 580.5,721.5 C578.8,722.5 575.8,722.8 574,722.2 C572.2,721.6 570.2,720 569.5,718 C568.8,716 568.8,712.1 569.5,710Z" stroke-width="1.8" fill="#fff"/>
<ellipse cx="572.5" cy="714" rx="3.5" ry="7" transform="rotate(-15 572.5 714)" stroke-width="1.4"/>
<polyline points="576,705.5 579,711 584,712" stroke-width="1.1"/>
<polyline points="579,711 578.5,721.8" stroke-width="1.1"/>
<path d="M478.5,775 C479.2,773.1 480.4,771.4 482,770.5 C483.6,769.6 486.1,769.3 488,769.6 C489.9,769.9 492.3,771.1 493.5,772.5 C494.7,773.9 495.1,776 495.2,778 C495.3,780 495.2,782.8 494,784.5 C492.8,786.2 490,787.7 488,788.2 C486,788.7 483.7,788.5 482,787.5 C480.3,786.5 478.6,784.1 478,782 C477.4,779.9 477.8,776.9 478.5,775Z" stroke-width="1.8" fill="#fff"/>
<ellipse cx="485.5" cy="779" rx="5.5" ry="7.5" transform="rotate(-15 485.5 779)" stroke-width="1.3"/>
<ellipse cx="485" cy="779.5" rx="2.2" ry="3" transform="rotate(-15 485 779.5)" stroke-width="1.3" fill="#333"/>
<polyline points="488,769.8 491,775 495,777" stroke-width="1.1"/>
<polyline points="491,775 490.5,787.5" stroke-width="1.1"/>
<path d="M537.2,767.2 C539.3,764.8 541,765.8 544.4,765.4 C547.8,765 554.2,763.9 557.6,764.8 C561,765.7 562.8,768.6 564.8,770.8 C566.8,773 568.2,775.4 569.6,778 C571,780.6 572.4,784.6 573.2,786.4 C574,788.2 573.4,788 574.4,788.8 C575.4,789.6 578.2,790 579.2,791.2 C580.2,792.4 580.6,794.4 580.4,796 C580.2,797.6 579.2,799.8 578,800.8 C576.8,801.8 574.8,801.4 573.2,802 C571.6,802.6 571.6,803.7 568.4,804.4 C565.2,805.1 558,806 554,806.2 C550,806.4 546.9,805.6 544.4,805.6 C541.9,805.6 541.2,806.9 539,806 C536.8,805.1 532.6,802.5 531,800 C529.4,797.5 529.2,794.3 529.4,791 C529.6,787.7 530.7,784 532,780 C533.3,776 535.1,769.6 537.2,767.2Z" stroke-width="1.8" fill="#fff"/>
<ellipse cx="540.5" cy="770" rx="3.6" ry="2.6" stroke-width="1.4" fill="#fff"/>
<ellipse cx="576" cy="796" rx="2" ry="2.6" stroke-width="1.2"/>
<path d="M542,778 C544,778.8 551.2,780.2 554,782.8 C556.8,785.4 558.4,790 558.8,793.6 C559.2,797.2 556.8,802.6 556.4,804.4" stroke-width="1.3"/>
<path d="M546,768 C548.3,768.7 556.7,769.7 560,772 C563.3,774.3 564.7,778.2 566,782 C567.3,785.8 568,791.3 568,795 C568,798.7 566.3,802.5 566,804" stroke-width="1.2"/>
<ellipse cx="539.3" cy="791.5" rx="9.9" ry="14.7" transform="rotate(-15 539.3 791.5)" stroke-width="1.8" fill="#fff"/>
<ellipse cx="540.5" cy="791" rx="7.5" ry="12.5" transform="rotate(-15 540.5 791)" stroke-width="1.3"/>
<polygon points="512,795.5 523,792.5 526.5,797 527,804 516,808.5 513,809" stroke-width="1.6" fill="#fff"/>
<polyline points="513.5,798 524.5,794.5" stroke-width="1"/>
<polyline points="513.5,800.5 524.5,797" stroke-width="1"/>
<polyline points="513.5,803 524.5,799.5" stroke-width="1"/>
<polyline points="513.5,805.5 524.5,802" stroke-width="1"/>
<polyline points="513.5,808 524.5,804.5" stroke-width="1"/>
<path d="M480,806.5 C482,805.7 487.8,803.2 492,801.5 C496.2,799.8 502,797.2 505,796.5 C508,795.8 508.6,795.9 510,797 C511.4,798.1 512.8,800.5 513.5,803 C514.2,805.5 516.6,809.2 514.5,812 C512.4,814.8 505.4,817.4 501,820 C496.6,822.6 490.2,826.2 488,827.5" stroke-width="1.7" fill="#fff"/>
<polyline points="480,806.5 488,827.5" stroke-width="0.1"/>
<ellipse cx="482" cy="817.5" rx="4" ry="10.8" transform="rotate(-18 482 817.5)" stroke-width="1.7" fill="#fff"/>
<ellipse cx="480" cy="818.5" rx="3.5" ry="10" transform="rotate(-18 480 818.5)" stroke-width="1.4"/>
<polygon points="466,815 478,809 487,826 471,831" stroke-width="1.7" fill="#fff"/>
<path d="M466,815 C466.3,815.8 467.8,818.2 468,820 C468.2,821.8 467,824.2 467.5,826 C468,827.8 470.4,830.2 471,831" stroke-width="1.7"/>
<ellipse cx="470" cy="829" rx="1.8" ry="2.4" stroke-width="1.3"/>
<ellipse cx="482" cy="817.5" rx="4" ry="10.8" transform="rotate(-18 482 817.5)" stroke-width="1.7" fill="#fff"/>
<ellipse cx="480" cy="818.5" rx="3.5" ry="10" transform="rotate(-18 480 818.5)" stroke-width="1.4"/>
<polygon points="451,822 461,818.5 464.5,831 455,835" stroke-width="1.6" fill="#fff"/>
<path d="M461,818.5 C461.4,819.2 463.3,821.6 463.5,823 C463.7,824.4 461.8,825.7 462,827 C462.2,828.3 464.1,830.3 464.5,831" stroke-width="1.6"/>
<ellipse cx="460.5" cy="822" rx="1.6" ry="2.4" stroke-width="1.3"/>
<ellipse cx="442" cy="834.2" rx="13.3" ry="17.5" transform="rotate(-15 442 834.2)" stroke-width="1.8" fill="#fff"/>
<ellipse cx="440" cy="834.5" rx="13.3" ry="17.5" transform="rotate(-15 440 834.5)" stroke-width="1.8" fill="#fff"/>
<polygon points="423.5,832 440,826.5 444,842 428,847.5" stroke-width="1.6" fill="#fff"/>
<ellipse cx="425.5" cy="840" rx="3" ry="7.8" transform="rotate(-15 425.5 840)" stroke-width="1.6" fill="#fff"/>
<ellipse cx="428.5" cy="844.5" rx="1.6" ry="2.2" stroke-width="1.2"/>
<polygon points="389.4,849.2 416.4,836.5 424,850 394,862" stroke-width="1.7" fill="#fff"/>
<path d="M416.4,836.5 C416.8,837.1 418.6,838.6 419,840 C419.4,841.4 418.2,843.4 418.5,845 C418.8,846.6 420.6,848.8 421,849.5" stroke-width="1.6"/>
<ellipse cx="418.5" cy="840" rx="1.6" ry="2.4" stroke-width="1.2"/>
<path d="M372,854.5 L391,847 A4.5,9 0 0 1 391,865 L372,872.5 A4.5,9 0 0 1 372,854.5 Z" stroke-width="1.7" fill="#fff"/>
<ellipse cx="372" cy="863.5" rx="4.5" ry="9" transform="rotate(-15 372 863.5)" stroke-width="1.7" fill="#fff"/>
<path d="M384,866 C383.9,865.2 386.7,863.3 388,863 C389.3,862.7 391.9,863.2 392,864 C392.1,864.8 389.8,867.2 388.5,867.5 C387.2,867.8 384.1,866.8 384,866Z" stroke-width="1.3"/>
<polygon points="334,869.5 370,855.2 376,872.5 344.5,883" stroke-width="1.7" fill="#fff"/>
<ellipse cx="341" cy="878" rx="3.5" ry="8" transform="rotate(-15 341 878)" stroke-width="1.6" fill="#fff"/>
<ellipse cx="337.5" cy="879.5" rx="3.5" ry="8" transform="rotate(-15 337.5 879.5)" stroke-width="1.6" fill="#fff"/>
<polygon points="314.5,879.2 332.5,872.5 336,887 323.5,892" stroke-width="1.6" fill="#fff"/>
<ellipse cx="319" cy="885.5" rx="3.5" ry="7" transform="rotate(-15 319 885.5)" stroke-width="1.5" fill="#fff"/>
<polygon points="296,888 316,880 320,893.5 300,900.5" stroke-width="1.6" fill="#fff"/>
<polyline points="300,888 302,899.5" stroke-width="1.1"/>
<polyline points="303,886.8 305,898.3" stroke-width="1.1"/>
<polyline points="306,885.6 308,897.1" stroke-width="1.1"/>
<polyline points="309,884.4 311,895.9" stroke-width="1.1"/>
<polyline points="312,883.2 314,894.7" stroke-width="1.1"/>
<polyline points="315,882 317,893.5" stroke-width="1.1"/>
<ellipse cx="296" cy="895" rx="3" ry="6.5" transform="rotate(-15 296 895)" stroke-width="1.6" fill="#fff"/>
<polyline points="294,892 298,893" stroke-width="1.3"/>
<polygon points="296,850 306,846.5 307.5,852 297,856" stroke-width="1.4" fill="#fff"/>
<polyline points="299,849.5 300,855" stroke-width="1.1"/>
<polyline points="301.7,848.6 302.7,854.1" stroke-width="1.1"/>
<polyline points="304.4,847.7 305.4,853.2" stroke-width="1.1"/>
<ellipse cx="292" cy="855" rx="4.5" ry="5.2" transform="rotate(-15 292 855)" stroke-width="1.7" fill="#fff"/>
<ellipse cx="244" cy="921.5" rx="12" ry="21.5" transform="rotate(-10 244 921.5)" stroke-width="1.8" fill="#fff"/>
<g fill="#222" stroke="none"><circle cx="237.7" cy="908.1" r="0.55"/><circle cx="244.2" cy="903.7" r="0.55"/><circle cx="243.8" cy="915.9" r="0.55"/><circle cx="234.5" cy="923.5" r="0.55"/><circle cx="233.5" cy="920.6" r="0.55"/><circle cx="244.7" cy="935" r="0.55"/><circle cx="233.9" cy="911.8" r="0.55"/><circle cx="249.9" cy="939.1" r="0.55"/><circle cx="244.9" cy="917" r="0.55"/><circle cx="250.3" cy="911.6" r="0.55"/><circle cx="242.1" cy="935" r="0.55"/><circle cx="237.7" cy="926" r="0.55"/><circle cx="246.1" cy="915.8" r="0.55"/><circle cx="241.9" cy="903.7" r="0.55"/><circle cx="247.4" cy="917.9" r="0.55"/><circle cx="240.6" cy="925.7" r="0.55"/><circle cx="241.6" cy="913.6" r="0.55"/><circle cx="251.8" cy="928.4" r="0.55"/><circle cx="239" cy="925.5" r="0.55"/><circle cx="247.2" cy="936.6" r="0.55"/><circle cx="247.5" cy="912.1" r="0.55"/><circle cx="244.1" cy="932.2" r="0.55"/><circle cx="236.4" cy="922.4" r="0.55"/><circle cx="235.2" cy="930.1" r="0.55"/><circle cx="250.3" cy="923.4" r="0.55"/><circle cx="250.8" cy="912.5" r="0.55"/><circle cx="248.9" cy="924.6" r="0.55"/><circle cx="245.4" cy="919.4" r="0.55"/><circle cx="244.6" cy="928.2" r="0.55"/><circle cx="235.9" cy="931.3" r="0.55"/><circle cx="249.4" cy="911.6" r="0.55"/><circle cx="242.7" cy="928.7" r="0.55"/><circle cx="233.4" cy="921.8" r="0.55"/><circle cx="234.2" cy="912.7" r="0.55"/><circle cx="244.3" cy="936.9" r="0.55"/><circle cx="234.6" cy="921.1" r="0.55"/><circle cx="247.8" cy="936.8" r="0.55"/><circle cx="253.5" cy="935" r="0.55"/><circle cx="238.6" cy="918.9" r="0.55"/><circle cx="243.7" cy="937.6" r="0.55"/><circle cx="235.1" cy="911.9" r="0.55"/><circle cx="238.1" cy="921.9" r="0.55"/><circle cx="244.2" cy="911.6" r="0.55"/><circle cx="241.6" cy="924.7" r="0.55"/><circle cx="255.2" cy="927.5" r="0.55"/><circle cx="245.2" cy="926.2" r="0.55"/><circle cx="244.6" cy="902.8" r="0.55"/><circle cx="254.6" cy="931.3" r="0.55"/><circle cx="254.2" cy="932.1" r="0.55"/><circle cx="240.9" cy="917.8" r="0.55"/><circle cx="236.4" cy="928.4" r="0.55"/><circle cx="235.3" cy="909" r="0.55"/><circle cx="237.3" cy="904" r="0.55"/><circle cx="234.4" cy="917.5" r="0.55"/><circle cx="244" cy="906.9" r="0.55"/><circle cx="237.5" cy="916.3" r="0.55"/><circle cx="238.4" cy="906.8" r="0.55"/><circle cx="243.1" cy="921" r="0.55"/><circle cx="238.9" cy="912.6" r="0.55"/><circle cx="248.7" cy="906.6" r="0.55"/><circle cx="242.1" cy="907.1" r="0.55"/><circle cx="241.6" cy="902.2" r="0.55"/><circle cx="248" cy="940.7" r="0.55"/><circle cx="253.3" cy="928" r="0.55"/><circle cx="237.9" cy="917" r="0.55"/><circle cx="238.7" cy="933.8" r="0.55"/><circle cx="246.7" cy="932.6" r="0.55"/><circle cx="238.3" cy="911" r="0.55"/><circle cx="253.8" cy="932.5" r="0.55"/><circle cx="252.6" cy="930" r="0.55"/><circle cx="238.2" cy="923.3" r="0.55"/><circle cx="237.5" cy="903" r="0.55"/><circle cx="240.2" cy="930.2" r="0.55"/><circle cx="253.5" cy="917.6" r="0.55"/><circle cx="252.9" cy="914.3" r="0.55"/><circle cx="236" cy="911.5" r="0.55"/><circle cx="235.3" cy="910.7" r="0.55"/><circle cx="249.5" cy="937.2" r="0.55"/><circle cx="251.2" cy="919.4" r="0.55"/><circle cx="249.4" cy="933" r="0.55"/><circle cx="236.1" cy="929.6" r="0.55"/><circle cx="254.9" cy="931.3" r="0.55"/><circle cx="249.3" cy="919.7" r="0.55"/><circle cx="239.1" cy="934.4" r="0.55"/><circle cx="242.5" cy="934.3" r="0.55"/><circle cx="253.5" cy="915.5" r="0.55"/><circle cx="245" cy="939.9" r="0.55"/><circle cx="246.5" cy="907.3" r="0.55"/><circle cx="238.7" cy="936" r="0.55"/><circle cx="241.1" cy="924" r="0.55"/><circle cx="255.3" cy="925.7" r="0.55"/><circle cx="247.7" cy="938.9" r="0.55"/><circle cx="245.2" cy="936.8" r="0.55"/><circle cx="249" cy="908.6" r="0.55"/><circle cx="237.1" cy="914.1" r="0.55"/><circle cx="239" cy="926" r="0.55"/><circle cx="238.2" cy="919.1" r="0.55"/><circle cx="240.5" cy="920.4" r="0.55"/><circle cx="248.7" cy="937.5" r="0.55"/><circle cx="245.3" cy="938.7" r="0.55"/><circle cx="244.3" cy="922.8" r="0.55"/><circle cx="241.1" cy="902" r="0.55"/><circle cx="240.4" cy="908.9" r="0.55"/><circle cx="236.7" cy="921.7" r="0.55"/><circle cx="249.3" cy="922.9" r="0.55"/><circle cx="240.4" cy="922.9" r="0.55"/><circle cx="247.2" cy="932.8" r="0.55"/><circle cx="235.9" cy="925.4" r="0.55"/><circle cx="237" cy="913.5" r="0.55"/><circle cx="250" cy="920.8" r="0.55"/><circle cx="247.2" cy="931.8" r="0.55"/><circle cx="252.5" cy="917.6" r="0.55"/><circle cx="246.5" cy="921.3" r="0.55"/><circle cx="245.6" cy="929.2" r="0.55"/><circle cx="243.2" cy="923" r="0.55"/><circle cx="246.7" cy="939.4" r="0.55"/><circle cx="251" cy="935.9" r="0.55"/><circle cx="248.4" cy="939.2" r="0.55"/><circle cx="248.8" cy="905.5" r="0.55"/><circle cx="235.4" cy="920.6" r="0.55"/><circle cx="232.9" cy="912.7" r="0.55"/><circle cx="236" cy="930" r="0.55"/><circle cx="253" cy="936.4" r="0.55"/><circle cx="238.1" cy="931.5" r="0.55"/><circle cx="244.9" cy="906.5" r="0.55"/><circle cx="241.7" cy="921.4" r="0.55"/><circle cx="236.2" cy="920" r="0.55"/><circle cx="243.2" cy="914.9" r="0.55"/><circle cx="236.1" cy="915.3" r="0.55"/><circle cx="244.7" cy="918.9" r="0.55"/><circle cx="246.8" cy="921.5" r="0.55"/><circle cx="233.8" cy="913.5" r="0.55"/><circle cx="236.4" cy="907.4" r="0.55"/><circle cx="245.2" cy="938.4" r="0.55"/><circle cx="249.2" cy="910.5" r="0.55"/><circle cx="247" cy="929.3" r="0.55"/><circle cx="247.5" cy="917.8" r="0.55"/><circle cx="249.1" cy="933.2" r="0.55"/><circle cx="241.9" cy="915.2" r="0.55"/><circle cx="248.2" cy="938.5" r="0.55"/><circle cx="236.3" cy="907.4" r="0.55"/><circle cx="242.7" cy="910.8" r="0.55"/><circle cx="238.5" cy="914.3" r="0.55"/><circle cx="248.1" cy="912" r="0.55"/><circle cx="241.7" cy="908.5" r="0.55"/><circle cx="249.4" cy="922.7" r="0.55"/><circle cx="237.1" cy="921.7" r="0.55"/><circle cx="250.4" cy="917.5" r="0.55"/><circle cx="246.3" cy="935" r="0.55"/><circle cx="241.7" cy="922.2" r="0.55"/><circle cx="243" cy="935.5" r="0.55"/><circle cx="249.4" cy="926.2" r="0.55"/><circle cx="240.8" cy="915.7" r="0.55"/><circle cx="236.4" cy="932.9" r="0.55"/><circle cx="236.3" cy="908.8" r="0.55"/><circle cx="253.2" cy="927" r="0.55"/><circle cx="237.4" cy="911.9" r="0.55"/><circle cx="239.2" cy="920.7" r="0.55"/><circle cx="236.2" cy="920.6" r="0.55"/><circle cx="254.6" cy="921.6" r="0.55"/><circle cx="238.9" cy="916.4" r="0.55"/><circle cx="243.5" cy="921.7" r="0.55"/><circle cx="237.6" cy="922.8" r="0.55"/><circle cx="234.4" cy="919" r="0.55"/><circle cx="237.9" cy="911.5" r="0.55"/><circle cx="246.1" cy="922.4" r="0.55"/><circle cx="250.5" cy="926.9" r="0.55"/><circle cx="251.4" cy="936" r="0.55"/><circle cx="240.4" cy="914.9" r="0.55"/><circle cx="249.9" cy="926.4" r="0.55"/><circle cx="253.4" cy="925.1" r="0.55"/><circle cx="251.3" cy="933.2" r="0.55"/><circle cx="236.4" cy="923.8" r="0.55"/><circle cx="246.5" cy="935" r="0.55"/><circle cx="252.9" cy="933.5" r="0.55"/><circle cx="248.6" cy="937" r="0.55"/><circle cx="249.3" cy="928.6" r="0.55"/><circle cx="235.1" cy="917.3" r="0.55"/><circle cx="246.2" cy="926.4" r="0.55"/><circle cx="248" cy="928.3" r="0.55"/><circle cx="240.2" cy="901.5" r="0.55"/><circle cx="252.2" cy="930.4" r="0.55"/><circle cx="244.3" cy="922.9" r="0.55"/><circle cx="244.4" cy="903.4" r="0.55"/><circle cx="247.4" cy="910.6" r="0.55"/><circle cx="233.1" cy="913.7" r="0.55"/><circle cx="246.9" cy="908.7" r="0.55"/><circle cx="243" cy="916.8" r="0.55"/><circle cx="244.9" cy="929" r="0.55"/><circle cx="250.6" cy="925.2" r="0.55"/><circle cx="244.1" cy="903.9" r="0.55"/><circle cx="234.6" cy="912.9" r="0.55"/><circle cx="247.9" cy="912.7" r="0.55"/><circle cx="242" cy="901.6" r="0.55"/><circle cx="232.8" cy="913.8" r="0.55"/><circle cx="249.1" cy="928.6" r="0.55"/><circle cx="246.3" cy="912.4" r="0.55"/><circle cx="244.1" cy="920" r="0.55"/><circle cx="240.6" cy="906.2" r="0.55"/><circle cx="250.4" cy="907.9" r="0.55"/><circle cx="233.3" cy="921.7" r="0.55"/><circle cx="241.3" cy="912.4" r="0.55"/><circle cx="238.3" cy="925.9" r="0.55"/><circle cx="236.4" cy="923.8" r="0.55"/><circle cx="251" cy="920.6" r="0.55"/><circle cx="253.8" cy="928.2" r="0.55"/><circle cx="241" cy="938.6" r="0.55"/><circle cx="240.3" cy="902.4" r="0.55"/><circle cx="233.2" cy="923.1" r="0.55"/><circle cx="241.5" cy="913.7" r="0.55"/><circle cx="235.1" cy="916.6" r="0.55"/><circle cx="242.4" cy="935.9" r="0.55"/><circle cx="254.8" cy="928.5" r="0.55"/><circle cx="251.2" cy="911.5" r="0.55"/><circle cx="240.5" cy="917.7" r="0.55"/><circle cx="240.5" cy="919.1" r="0.55"/><circle cx="242.5" cy="939.9" r="0.55"/><circle cx="236.9" cy="913" r="0.55"/><circle cx="242" cy="908.9" r="0.55"/><circle cx="244.5" cy="940.4" r="0.55"/><circle cx="254.5" cy="932.6" r="0.55"/><circle cx="249.8" cy="937.7" r="0.55"/><circle cx="253.9" cy="921.8" r="0.55"/><circle cx="248.7" cy="918.6" r="0.55"/><circle cx="250.5" cy="926.4" r="0.55"/><circle cx="236.2" cy="904.1" r="0.55"/><circle cx="242.3" cy="915.3" r="0.55"/><circle cx="241.3" cy="931.9" r="0.55"/><circle cx="246" cy="912.9" r="0.55"/><circle cx="244.5" cy="917" r="0.55"/><circle cx="234.4" cy="909.1" r="0.55"/><circle cx="241.9" cy="910.2" r="0.55"/><circle cx="240.3" cy="907.1" r="0.55"/><circle cx="237.7" cy="905.6" r="0.55"/><circle cx="236.6" cy="912.7" r="0.55"/><circle cx="248.3" cy="936.9" r="0.55"/><circle cx="248.8" cy="917" r="0.55"/><circle cx="242.3" cy="922.8" r="0.55"/><circle cx="240.2" cy="915.4" r="0.55"/><circle cx="232.9" cy="914.2" r="0.55"/><circle cx="245" cy="926.7" r="0.55"/><circle cx="249.8" cy="908.6" r="0.55"/><circle cx="237.2" cy="912.2" r="0.55"/><circle cx="241.4" cy="919.7" r="0.55"/><circle cx="252.4" cy="918.9" r="0.55"/><circle cx="244.7" cy="939.1" r="0.55"/><circle cx="253.6" cy="934.6" r="0.55"/><circle cx="245.8" cy="928.8" r="0.55"/><circle cx="255.1" cy="928.8" r="0.55"/><circle cx="249.1" cy="931.6" r="0.55"/><circle cx="243.4" cy="923.7" r="0.55"/><circle cx="241.2" cy="939.5" r="0.55"/><circle cx="245.8" cy="913" r="0.55"/><circle cx="234.2" cy="912.9" r="0.55"/><circle cx="248.4" cy="929" r="0.55"/><circle cx="245.1" cy="924.8" r="0.55"/><circle cx="239.6" cy="910.8" r="0.55"/><circle cx="242.7" cy="901.3" r="0.55"/><circle cx="239.4" cy="920.7" r="0.55"/><circle cx="255" cy="925.6" r="0.55"/><circle cx="252.1" cy="919" r="0.55"/><circle cx="236.5" cy="912.3" r="0.55"/><circle cx="245.2" cy="928.6" r="0.55"/><circle cx="240.5" cy="912" r="0.55"/><circle cx="250.7" cy="938" r="0.55"/><circle cx="239.9" cy="918.9" r="0.55"/><circle cx="245.8" cy="908.6" r="0.55"/><circle cx="252.1" cy="930" r="0.55"/><circle cx="242" cy="909.6" r="0.55"/><circle cx="249" cy="909.4" r="0.55"/><circle cx="239.8" cy="933.1" r="0.55"/><circle cx="242.8" cy="940.5" r="0.55"/><circle cx="241.7" cy="908.9" r="0.55"/><circle cx="237.4" cy="919.2" r="0.55"/><circle cx="250.8" cy="939" r="0.55"/><circle cx="235.6" cy="918.5" r="0.55"/><circle cx="233.7" cy="918.9" r="0.55"/><circle cx="252.1" cy="913" r="0.55"/><circle cx="246.7" cy="916" r="0.55"/><circle cx="240.1" cy="915.2" r="0.55"/><circle cx="238.2" cy="916.3" r="0.55"/><circle cx="243.2" cy="935" r="0.55"/><circle cx="250.5" cy="917.5" r="0.55"/><circle cx="234" cy="922.2" r="0.55"/><circle cx="244.2" cy="938.9" r="0.55"/><circle cx="236.4" cy="917.2" r="0.55"/><circle cx="244.3" cy="934.4" r="0.55"/><circle cx="251.4" cy="910.1" r="0.55"/><circle cx="252.2" cy="936.6" r="0.55"/><circle cx="238.9" cy="912.9" r="0.55"/><circle cx="254.7" cy="924.5" r="0.55"/><circle cx="240.4" cy="931.2" r="0.55"/><circle cx="238.4" cy="913.1" r="0.55"/><circle cx="254" cy="925.3" r="0.55"/><circle cx="238.1" cy="921.5" r="0.55"/><circle cx="239.8" cy="911.9" r="0.55"/><circle cx="242.4" cy="921.5" r="0.55"/></g>
<path d="M242.4,901.3 C242.7,901.3 243.4,901.5 243.9,901.7 C244.4,901.8 244.9,902.1 245.4,902.4 C245.9,902.7 246.4,903 246.9,903.4 C247.4,903.8 247.9,904.3 248.4,904.8 C248.8,905.3 249.3,905.8 249.7,906.4 C250.2,907 250.6,907.7 251,908.3 C251.4,909 251.8,909.7 252.1,910.5 C252.5,911.2 252.8,912 253.1,912.8 C253.5,913.6 253.7,914.4 254,915.2 C254.3,916.1 254.5,916.9 254.7,917.8 C254.9,918.7 255,919.6 255.2,920.4 C255.3,921.3 255.4,922.2 255.5,923.1 C255.5,924 255.6,924.9 255.6,925.7 C255.6,926.6 255.6,927.4 255.5,928.3 C255.4,929.1 255.3,929.9 255.2,930.7 C255.1,931.5 254.9,932.3 254.7,933 C254.5,933.7 254.3,934.4 254.1,935.1 C253.8,935.7 253.5,936.3 253.2,936.9 C252.9,937.5 252.6,938 252.3,938.5 C251.9,939 251.5,939.4 251.1,939.8 C250.7,940.2 250.3,940.5 249.9,940.8 C249.4,941.1 249,941.3 248.5,941.4 C248,941.6 247.6,941.7 247.1,941.8 C246.6,941.8 245.8,941.7 245.6,941.7" stroke-width="3.2"/><path d="M242.4,901.3 C242.7,901.3 243.4,901.5 243.9,901.7 C244.4,901.8 244.9,902.1 245.4,902.4 C245.9,902.7 246.4,903 246.9,903.4 C247.4,903.8 247.9,904.3 248.4,904.8 C248.8,905.3 249.3,905.8 249.7,906.4 C250.2,907 250.6,907.7 251,908.3 C251.4,909 251.8,909.7 252.1,910.5 C252.5,911.2 252.8,912 253.1,912.8 C253.5,913.6 253.7,914.4 254,915.2 C254.3,916.1 254.5,916.9 254.7,917.8 C254.9,918.7 255,919.6 255.2,920.4 C255.3,921.3 255.4,922.2 255.5,923.1 C255.5,924 255.6,924.9 255.6,925.7 C255.6,926.6 255.6,927.4 255.5,928.3 C255.4,929.1 255.3,929.9 255.2,930.7 C255.1,931.5 254.9,932.3 254.7,933 C254.5,933.7 254.3,934.4 254.1,935.1 C253.8,935.7 253.5,936.3 253.2,936.9 C252.9,937.5 252.6,938 252.3,938.5 C251.9,939 251.5,939.4 251.1,939.8 C250.7,940.2 250.3,940.5 249.9,940.8 C249.4,941.1 249,941.3 248.5,941.4 C248,941.6 247.6,941.7 247.1,941.8 C246.6,941.8 245.8,941.7 245.6,941.7" stroke="#fff" stroke-width="1.4" stroke-dasharray="1.8 1.4" stroke-linecap="butt"/>
<ellipse cx="233.5" cy="922.8" rx="11.5" ry="19.2" transform="rotate(-10 233.5 922.8)" stroke-width="1.8" fill="#fff"/>
<g fill="#222" stroke="none"><circle cx="227.1" cy="931.4" r="0.55"/><circle cx="223.3" cy="915.3" r="0.55"/><circle cx="236.2" cy="920.8" r="0.55"/><circle cx="232.5" cy="922.7" r="0.55"/><circle cx="229.2" cy="935.6" r="0.55"/><circle cx="223.4" cy="914.8" r="0.55"/><circle cx="234.1" cy="937.3" r="0.55"/><circle cx="228.6" cy="909.5" r="0.55"/><circle cx="225.2" cy="928.6" r="0.55"/><circle cx="232" cy="928.9" r="0.55"/><circle cx="231.4" cy="930.1" r="0.55"/><circle cx="234.4" cy="928.1" r="0.55"/><circle cx="242.3" cy="924.2" r="0.55"/><circle cx="242.7" cy="920.7" r="0.55"/><circle cx="236.6" cy="930.6" r="0.55"/><circle cx="240" cy="913.8" r="0.55"/><circle cx="232.9" cy="936.7" r="0.55"/><circle cx="227.6" cy="933.5" r="0.55"/><circle cx="226.4" cy="931" r="0.55"/><circle cx="240.5" cy="938" r="0.55"/><circle cx="240.6" cy="921.6" r="0.55"/><circle cx="225.1" cy="911.4" r="0.55"/><circle cx="234.2" cy="923" r="0.55"/><circle cx="234.9" cy="929.9" r="0.55"/><circle cx="226.1" cy="914.7" r="0.55"/><circle cx="228.2" cy="920.9" r="0.55"/><circle cx="233" cy="935.1" r="0.55"/><circle cx="229.3" cy="911.3" r="0.55"/><circle cx="229" cy="933.3" r="0.55"/><circle cx="238" cy="916.2" r="0.55"/><circle cx="226.3" cy="921.7" r="0.55"/><circle cx="227.4" cy="920.5" r="0.55"/><circle cx="231.9" cy="920" r="0.55"/><circle cx="234" cy="914.9" r="0.55"/><circle cx="225.5" cy="924.9" r="0.55"/><circle cx="232.5" cy="934.2" r="0.55"/><circle cx="234.9" cy="930.1" r="0.55"/><circle cx="231.6" cy="925.8" r="0.55"/><circle cx="237.6" cy="916.6" r="0.55"/><circle cx="238.6" cy="911.2" r="0.55"/><circle cx="244.1" cy="923.8" r="0.55"/><circle cx="229.7" cy="908.2" r="0.55"/><circle cx="235.7" cy="922.3" r="0.55"/><circle cx="230.8" cy="910.6" r="0.55"/><circle cx="226.2" cy="927" r="0.55"/><circle cx="230.2" cy="909.7" r="0.55"/><circle cx="233.7" cy="931" r="0.55"/><circle cx="237.8" cy="920.9" r="0.55"/><circle cx="230.4" cy="918.2" r="0.55"/><circle cx="225.9" cy="913" r="0.55"/><circle cx="229.9" cy="909.1" r="0.55"/><circle cx="239.5" cy="929.3" r="0.55"/><circle cx="232.8" cy="905.4" r="0.55"/><circle cx="230.3" cy="920.8" r="0.55"/><circle cx="238.8" cy="921.9" r="0.55"/><circle cx="235.9" cy="911.4" r="0.55"/><circle cx="228.1" cy="924.6" r="0.55"/><circle cx="239.5" cy="927.1" r="0.55"/><circle cx="243.5" cy="929.9" r="0.55"/><circle cx="226.5" cy="916.5" r="0.55"/><circle cx="237.5" cy="939.5" r="0.55"/><circle cx="233.6" cy="938.9" r="0.55"/><circle cx="240.9" cy="922" r="0.55"/><circle cx="238.9" cy="938.5" r="0.55"/><circle cx="238.1" cy="914.5" r="0.55"/><circle cx="238.7" cy="910.7" r="0.55"/><circle cx="233.7" cy="939.5" r="0.55"/><circle cx="239.5" cy="914.8" r="0.55"/><circle cx="229.9" cy="927.5" r="0.55"/><circle cx="241.7" cy="928" r="0.55"/><circle cx="243.9" cy="929.2" r="0.55"/><circle cx="240.8" cy="925.3" r="0.55"/><circle cx="230.2" cy="920.7" r="0.55"/><circle cx="233.5" cy="923.8" r="0.55"/><circle cx="239" cy="913.3" r="0.55"/><circle cx="226" cy="932.6" r="0.55"/><circle cx="228.3" cy="920.7" r="0.55"/><circle cx="227.5" cy="916.2" r="0.55"/><circle cx="239.8" cy="921.8" r="0.55"/><circle cx="231.3" cy="937.3" r="0.55"/><circle cx="230.8" cy="918.2" r="0.55"/><circle cx="237.1" cy="913" r="0.55"/><circle cx="240.6" cy="925" r="0.55"/><circle cx="239.5" cy="916.9" r="0.55"/><circle cx="241.1" cy="932.1" r="0.55"/><circle cx="232.1" cy="928.6" r="0.55"/><circle cx="226.7" cy="928" r="0.55"/><circle cx="234.7" cy="907.4" r="0.55"/><circle cx="235" cy="936" r="0.55"/><circle cx="225.7" cy="928" r="0.55"/><circle cx="242" cy="926.8" r="0.55"/><circle cx="226.9" cy="907.1" r="0.55"/><circle cx="235.8" cy="917.4" r="0.55"/><circle cx="242.3" cy="932.7" r="0.55"/><circle cx="238.8" cy="925.5" r="0.55"/><circle cx="228.5" cy="916.2" r="0.55"/><circle cx="229.5" cy="917.1" r="0.55"/><circle cx="231.5" cy="909" r="0.55"/><circle cx="237.1" cy="916.6" r="0.55"/><circle cx="224.9" cy="915.3" r="0.55"/><circle cx="230.8" cy="920.7" r="0.55"/><circle cx="236.8" cy="907.5" r="0.55"/><circle cx="226.5" cy="916.4" r="0.55"/><circle cx="228.4" cy="932.8" r="0.55"/><circle cx="236.1" cy="930.9" r="0.55"/><circle cx="240.6" cy="923.7" r="0.55"/><circle cx="232.3" cy="936.9" r="0.55"/><circle cx="238.3" cy="921.1" r="0.55"/><circle cx="237.5" cy="938" r="0.55"/><circle cx="224.8" cy="918" r="0.55"/><circle cx="229.5" cy="911.3" r="0.55"/><circle cx="242" cy="924.4" r="0.55"/><circle cx="235.3" cy="919.3" r="0.55"/><circle cx="243" cy="923.9" r="0.55"/><circle cx="232.5" cy="918.1" r="0.55"/><circle cx="240.8" cy="922.5" r="0.55"/><circle cx="230.7" cy="929.8" r="0.55"/><circle cx="230.7" cy="909.6" r="0.55"/><circle cx="240.5" cy="921.5" r="0.55"/><circle cx="243.5" cy="922.2" r="0.55"/><circle cx="241.2" cy="913.7" r="0.55"/><circle cx="227.8" cy="924.7" r="0.55"/><circle cx="241" cy="933.3" r="0.55"/><circle cx="234.2" cy="908.9" r="0.55"/><circle cx="228.4" cy="906.6" r="0.55"/><circle cx="233.6" cy="939" r="0.55"/><circle cx="231.6" cy="930.4" r="0.55"/><circle cx="233.8" cy="909.7" r="0.55"/><circle cx="234.8" cy="907.2" r="0.55"/><circle cx="227.5" cy="926.7" r="0.55"/><circle cx="232.8" cy="927.6" r="0.55"/><circle cx="236.6" cy="927.9" r="0.55"/><circle cx="243.7" cy="926.4" r="0.55"/><circle cx="231" cy="911.1" r="0.55"/><circle cx="227.2" cy="918.9" r="0.55"/><circle cx="229.5" cy="918.8" r="0.55"/><circle cx="239.1" cy="917.2" r="0.55"/><circle cx="233.3" cy="905.9" r="0.55"/><circle cx="227.4" cy="931.5" r="0.55"/><circle cx="240.4" cy="914.7" r="0.55"/><circle cx="229.8" cy="918.5" r="0.55"/><circle cx="233.5" cy="915.5" r="0.55"/><circle cx="238.3" cy="932.4" r="0.55"/><circle cx="240.9" cy="930.3" r="0.55"/><circle cx="233.7" cy="914" r="0.55"/><circle cx="239.2" cy="914" r="0.55"/><circle cx="240.6" cy="919.6" r="0.55"/><circle cx="236.2" cy="922.3" r="0.55"/><circle cx="235.7" cy="916.6" r="0.55"/><circle cx="236.6" cy="930.9" r="0.55"/><circle cx="231.3" cy="926.8" r="0.55"/><circle cx="232.4" cy="921.8" r="0.55"/><circle cx="231.4" cy="924.8" r="0.55"/><circle cx="235.8" cy="910.4" r="0.55"/><circle cx="228.2" cy="935.5" r="0.55"/><circle cx="237.1" cy="911.8" r="0.55"/><circle cx="234.8" cy="913.5" r="0.55"/><circle cx="239.5" cy="910.6" r="0.55"/><circle cx="236.2" cy="911.7" r="0.55"/><circle cx="239.9" cy="930.3" r="0.55"/><circle cx="235.9" cy="927.5" r="0.55"/><circle cx="232.2" cy="935.9" r="0.55"/><circle cx="234.3" cy="937.6" r="0.55"/><circle cx="225.2" cy="924.6" r="0.55"/><circle cx="236.2" cy="940.1" r="0.55"/><circle cx="241.4" cy="918.6" r="0.55"/><circle cx="224" cy="911.5" r="0.55"/><circle cx="240.7" cy="938" r="0.55"/><circle cx="236" cy="916.7" r="0.55"/><circle cx="236.5" cy="928" r="0.55"/><circle cx="229.6" cy="930.5" r="0.55"/><circle cx="224.4" cy="923.9" r="0.55"/><circle cx="235.8" cy="912.3" r="0.55"/><circle cx="232.6" cy="930" r="0.55"/><circle cx="228.7" cy="924.4" r="0.55"/><circle cx="235" cy="919" r="0.55"/><circle cx="228.7" cy="930.6" r="0.55"/><circle cx="235.7" cy="911" r="0.55"/><circle cx="240.8" cy="927.1" r="0.55"/><circle cx="242.8" cy="931.3" r="0.55"/><circle cx="234.7" cy="930.4" r="0.55"/><circle cx="230.6" cy="928.9" r="0.55"/><circle cx="223.9" cy="918.8" r="0.55"/><circle cx="236" cy="936.4" r="0.55"/><circle cx="239.9" cy="936.6" r="0.55"/><circle cx="236.7" cy="926.5" r="0.55"/><circle cx="231.1" cy="913" r="0.55"/><circle cx="240.3" cy="925.6" r="0.55"/><circle cx="224.9" cy="914.8" r="0.55"/><circle cx="229.1" cy="931.7" r="0.55"/><circle cx="233.6" cy="911.8" r="0.55"/><circle cx="237.8" cy="924.3" r="0.55"/><circle cx="228.3" cy="921.6" r="0.55"/><circle cx="228.6" cy="927" r="0.55"/><circle cx="233.1" cy="932.6" r="0.55"/><circle cx="224.9" cy="920.1" r="0.55"/><circle cx="241.9" cy="927.3" r="0.55"/><circle cx="233" cy="926.4" r="0.55"/><circle cx="233.5" cy="924.5" r="0.55"/><circle cx="228.9" cy="932.9" r="0.55"/><circle cx="243.4" cy="924.9" r="0.55"/><circle cx="232.7" cy="918.2" r="0.55"/><circle cx="233.7" cy="925.7" r="0.55"/><circle cx="233.4" cy="908.7" r="0.55"/><circle cx="232.6" cy="911.9" r="0.55"/><circle cx="233.6" cy="907.2" r="0.55"/><circle cx="229.4" cy="919.3" r="0.55"/><circle cx="229.6" cy="923" r="0.55"/><circle cx="226.4" cy="923.7" r="0.55"/><circle cx="240.4" cy="926.2" r="0.55"/><circle cx="232.8" cy="921.7" r="0.55"/><circle cx="241.3" cy="935.3" r="0.55"/><circle cx="235.4" cy="928.5" r="0.55"/><circle cx="237.5" cy="922.5" r="0.55"/><circle cx="233.1" cy="919.2" r="0.55"/><circle cx="232.3" cy="922" r="0.55"/><circle cx="237.6" cy="909.6" r="0.55"/><circle cx="234.9" cy="929.7" r="0.55"/><circle cx="243.6" cy="929.6" r="0.55"/><circle cx="237.7" cy="938.5" r="0.55"/><circle cx="235.7" cy="920.4" r="0.55"/><circle cx="224.8" cy="911.8" r="0.55"/><circle cx="242" cy="935.7" r="0.55"/><circle cx="230.7" cy="924.3" r="0.55"/><circle cx="237.9" cy="925.9" r="0.55"/><circle cx="231.4" cy="938.2" r="0.55"/><circle cx="235.9" cy="930.2" r="0.55"/><circle cx="237" cy="919.9" r="0.55"/><circle cx="235.7" cy="911" r="0.55"/><circle cx="235.4" cy="927.9" r="0.55"/><circle cx="234.9" cy="914.9" r="0.55"/><circle cx="223.7" cy="912.9" r="0.55"/><circle cx="233.6" cy="925.2" r="0.55"/><circle cx="237.4" cy="919.8" r="0.55"/><circle cx="228" cy="909.8" r="0.55"/><circle cx="234.3" cy="925.3" r="0.55"/><circle cx="234.9" cy="920.4" r="0.55"/><circle cx="229.7" cy="917.2" r="0.55"/><circle cx="223.4" cy="913.3" r="0.55"/><circle cx="233.6" cy="925.2" r="0.55"/><circle cx="231.4" cy="917" r="0.55"/><circle cx="235.1" cy="929.4" r="0.55"/><circle cx="237.2" cy="932.5" r="0.55"/><circle cx="234" cy="929.1" r="0.55"/><circle cx="229.5" cy="909.8" r="0.55"/><circle cx="230.9" cy="915" r="0.55"/><circle cx="235.8" cy="928.5" r="0.55"/><circle cx="232.6" cy="933.8" r="0.55"/><circle cx="234" cy="924.9" r="0.55"/></g>
<ellipse cx="222.2" cy="927.5" rx="11.8" ry="17.5" transform="rotate(-10 222.2 927.5)" stroke-width="1.8" fill="#fff"/>
<g fill="#222" stroke="none"><circle cx="220.7" cy="923.5" r="0.55"/><circle cx="211.8" cy="929.4" r="0.55"/><circle cx="224.1" cy="931.1" r="0.55"/><circle cx="211.8" cy="925.3" r="0.55"/><circle cx="226.3" cy="925.2" r="0.55"/><circle cx="225.1" cy="915.5" r="0.55"/><circle cx="214.4" cy="915.8" r="0.55"/><circle cx="224.8" cy="941.3" r="0.55"/><circle cx="225.7" cy="936.1" r="0.55"/><circle cx="221.2" cy="935.9" r="0.55"/><circle cx="212.6" cy="922.2" r="0.55"/><circle cx="227.2" cy="934.2" r="0.55"/><circle cx="218.2" cy="914.4" r="0.55"/><circle cx="215.6" cy="918.9" r="0.55"/><circle cx="219.4" cy="938.4" r="0.55"/><circle cx="218.1" cy="941.2" r="0.55"/><circle cx="219.6" cy="927.7" r="0.55"/><circle cx="211.7" cy="926.8" r="0.55"/><circle cx="222.1" cy="914.8" r="0.55"/><circle cx="226.2" cy="940.1" r="0.55"/><circle cx="213.6" cy="930.4" r="0.55"/><circle cx="224.6" cy="941.2" r="0.55"/><circle cx="220" cy="924.5" r="0.55"/><circle cx="222.9" cy="913.8" r="0.55"/><circle cx="222.1" cy="916.6" r="0.55"/><circle cx="227.2" cy="942" r="0.55"/><circle cx="213.1" cy="931" r="0.55"/><circle cx="222.5" cy="915.7" r="0.55"/><circle cx="229.2" cy="941.4" r="0.55"/><circle cx="217.3" cy="932.1" r="0.55"/><circle cx="211.8" cy="924.9" r="0.55"/><circle cx="226.5" cy="929.8" r="0.55"/><circle cx="225.7" cy="913" r="0.55"/><circle cx="221.1" cy="939.9" r="0.55"/><circle cx="223.8" cy="925.6" r="0.55"/><circle cx="223" cy="943.7" r="0.55"/><circle cx="221.1" cy="911.6" r="0.55"/><circle cx="227.6" cy="920.8" r="0.55"/><circle cx="219.2" cy="918.4" r="0.55"/><circle cx="220.1" cy="922" r="0.55"/><circle cx="214.2" cy="933.3" r="0.55"/><circle cx="215.4" cy="938.2" r="0.55"/><circle cx="228.8" cy="926.3" r="0.55"/><circle cx="225.3" cy="918.5" r="0.55"/><circle cx="226.9" cy="924.2" r="0.55"/><circle cx="219.4" cy="923.7" r="0.55"/><circle cx="229.2" cy="921.9" r="0.55"/><circle cx="223.9" cy="916.2" r="0.55"/><circle cx="228.2" cy="918.4" r="0.55"/><circle cx="233.2" cy="929.1" r="0.55"/><circle cx="215.4" cy="925" r="0.55"/><circle cx="227.3" cy="942.2" r="0.55"/><circle cx="217.1" cy="916.4" r="0.55"/><circle cx="221.5" cy="915.5" r="0.55"/><circle cx="213.8" cy="930.9" r="0.55"/><circle cx="223.9" cy="912.6" r="0.55"/><circle cx="222.4" cy="934.3" r="0.55"/><circle cx="227.2" cy="922.7" r="0.55"/><circle cx="228.4" cy="935.5" r="0.55"/><circle cx="230.3" cy="925.9" r="0.55"/><circle cx="221" cy="916.8" r="0.55"/><circle cx="222.6" cy="913.5" r="0.55"/><circle cx="226.6" cy="917.4" r="0.55"/><circle cx="221.7" cy="929.6" r="0.55"/><circle cx="218" cy="917.3" r="0.55"/><circle cx="224.4" cy="942.1" r="0.55"/><circle cx="225.5" cy="941.7" r="0.55"/><circle cx="230.8" cy="927.5" r="0.55"/><circle cx="223" cy="928.6" r="0.55"/><circle cx="225.5" cy="928.3" r="0.55"/><circle cx="219.3" cy="935.6" r="0.55"/><circle cx="224.7" cy="913.8" r="0.55"/><circle cx="226.2" cy="925.2" r="0.55"/><circle cx="222.8" cy="932" r="0.55"/><circle cx="213.3" cy="932.5" r="0.55"/><circle cx="221.7" cy="940.3" r="0.55"/><circle cx="218.4" cy="939" r="0.55"/><circle cx="227.9" cy="930.7" r="0.55"/><circle cx="225" cy="930.8" r="0.55"/><circle cx="225.5" cy="923.8" r="0.55"/><circle cx="222.7" cy="916.7" r="0.55"/><circle cx="212.2" cy="924.4" r="0.55"/><circle cx="221.8" cy="928.8" r="0.55"/><circle cx="220.3" cy="937.3" r="0.55"/><circle cx="226.9" cy="942.6" r="0.55"/><circle cx="213" cy="924.1" r="0.55"/><circle cx="218.1" cy="937.6" r="0.55"/><circle cx="214.1" cy="919.6" r="0.55"/><circle cx="220.9" cy="935.8" r="0.55"/><circle cx="221.7" cy="928.3" r="0.55"/><circle cx="220.2" cy="932.4" r="0.55"/><circle cx="215.2" cy="920.6" r="0.55"/><circle cx="220.9" cy="917.6" r="0.55"/><circle cx="223.5" cy="942.2" r="0.55"/><circle cx="219" cy="939.9" r="0.55"/><circle cx="222.9" cy="918" r="0.55"/><circle cx="211.6" cy="921.8" r="0.55"/><circle cx="219.7" cy="938" r="0.55"/><circle cx="216.9" cy="920" r="0.55"/><circle cx="224.4" cy="926.8" r="0.55"/><circle cx="220.9" cy="939" r="0.55"/><circle cx="218.4" cy="918.4" r="0.55"/><circle cx="217.3" cy="927.1" r="0.55"/><circle cx="225" cy="929.3" r="0.55"/><circle cx="219.2" cy="917.5" r="0.55"/><circle cx="219.2" cy="922.2" r="0.55"/><circle cx="215.5" cy="930.2" r="0.55"/><circle cx="216.8" cy="935.5" r="0.55"/><circle cx="223.6" cy="915.1" r="0.55"/><circle cx="224" cy="921.8" r="0.55"/><circle cx="221.7" cy="931.2" r="0.55"/><circle cx="230" cy="939" r="0.55"/><circle cx="225.6" cy="917.2" r="0.55"/><circle cx="222.2" cy="922" r="0.55"/><circle cx="212.3" cy="931" r="0.55"/><circle cx="223.7" cy="939.5" r="0.55"/><circle cx="220.4" cy="939" r="0.55"/><circle cx="220.3" cy="914.4" r="0.55"/><circle cx="225.6" cy="919.7" r="0.55"/><circle cx="220.5" cy="913.4" r="0.55"/><circle cx="224.8" cy="923.5" r="0.55"/><circle cx="230.5" cy="926.2" r="0.55"/><circle cx="215.6" cy="935.1" r="0.55"/><circle cx="217.9" cy="920.6" r="0.55"/><circle cx="217.8" cy="924.4" r="0.55"/><circle cx="216.1" cy="932.3" r="0.55"/><circle cx="230.5" cy="928.4" r="0.55"/><circle cx="211.9" cy="928.6" r="0.55"/><circle cx="231" cy="931.9" r="0.55"/><circle cx="232.4" cy="934.2" r="0.55"/><circle cx="215.4" cy="916.8" r="0.55"/><circle cx="222.2" cy="933.5" r="0.55"/><circle cx="215.6" cy="923" r="0.55"/><circle cx="226.7" cy="921.6" r="0.55"/><circle cx="224.7" cy="928.6" r="0.55"/><circle cx="217.2" cy="937.7" r="0.55"/><circle cx="223.5" cy="913.8" r="0.55"/><circle cx="212.8" cy="919.5" r="0.55"/><circle cx="225.5" cy="940.4" r="0.55"/><circle cx="214.5" cy="918.9" r="0.55"/><circle cx="225.8" cy="924.3" r="0.55"/><circle cx="232.8" cy="932.9" r="0.55"/><circle cx="219.7" cy="913.2" r="0.55"/><circle cx="228.2" cy="923" r="0.55"/><circle cx="222.2" cy="931.9" r="0.55"/><circle cx="232.4" cy="927.6" r="0.55"/><circle cx="212.6" cy="924.3" r="0.55"/><circle cx="232" cy="934.7" r="0.55"/><circle cx="225.4" cy="941.5" r="0.55"/><circle cx="224.1" cy="932.9" r="0.55"/><circle cx="222.3" cy="917.5" r="0.55"/><circle cx="228.1" cy="919.2" r="0.55"/><circle cx="213.2" cy="922.3" r="0.55"/><circle cx="211.8" cy="926.2" r="0.55"/><circle cx="227.9" cy="925" r="0.55"/><circle cx="213.3" cy="917.2" r="0.55"/><circle cx="222.1" cy="917.5" r="0.55"/><circle cx="225.9" cy="927.6" r="0.55"/><circle cx="225.9" cy="938.4" r="0.55"/><circle cx="214.2" cy="924.9" r="0.55"/><circle cx="231.5" cy="922.4" r="0.55"/><circle cx="217.6" cy="927.7" r="0.55"/><circle cx="217.5" cy="940" r="0.55"/><circle cx="222.8" cy="913.8" r="0.55"/><circle cx="232.2" cy="926.4" r="0.55"/><circle cx="217.7" cy="932.1" r="0.55"/><circle cx="230.9" cy="920.8" r="0.55"/><circle cx="213" cy="930.1" r="0.55"/><circle cx="220.3" cy="939.6" r="0.55"/><circle cx="219.3" cy="915.4" r="0.55"/><circle cx="216.6" cy="919.3" r="0.55"/><circle cx="216.2" cy="933.1" r="0.55"/><circle cx="230.8" cy="921.6" r="0.55"/><circle cx="224.2" cy="921.2" r="0.55"/><circle cx="231.4" cy="927.7" r="0.55"/><circle cx="225.9" cy="922.1" r="0.55"/><circle cx="224.7" cy="934" r="0.55"/><circle cx="214.4" cy="935.8" r="0.55"/><circle cx="229.2" cy="941.1" r="0.55"/><circle cx="213.3" cy="931.5" r="0.55"/><circle cx="224.4" cy="938.7" r="0.55"/><circle cx="220.3" cy="933.3" r="0.55"/><circle cx="229.8" cy="921.1" r="0.55"/><circle cx="224.8" cy="940.2" r="0.55"/><circle cx="218" cy="926.8" r="0.55"/><circle cx="219.4" cy="938" r="0.55"/><circle cx="224.4" cy="935.4" r="0.55"/><circle cx="230.1" cy="932.2" r="0.55"/><circle cx="215" cy="920.7" r="0.55"/><circle cx="218.7" cy="913.5" r="0.55"/><circle cx="231.4" cy="922.8" r="0.55"/><circle cx="227.1" cy="936.7" r="0.55"/><circle cx="224.9" cy="924.5" r="0.55"/><circle cx="211.7" cy="927.2" r="0.55"/><circle cx="222.5" cy="942.4" r="0.55"/><circle cx="222.2" cy="917.5" r="0.55"/><circle cx="223.9" cy="923.2" r="0.55"/><circle cx="217.8" cy="941.1" r="0.55"/><circle cx="223.8" cy="932.7" r="0.55"/><circle cx="216.1" cy="936.8" r="0.55"/><circle cx="228.8" cy="916.2" r="0.55"/><circle cx="222.5" cy="932.6" r="0.55"/><circle cx="223.2" cy="935.8" r="0.55"/><circle cx="224.3" cy="920.9" r="0.55"/><circle cx="227.7" cy="935.7" r="0.55"/><circle cx="222" cy="930.6" r="0.55"/><circle cx="225" cy="926.2" r="0.55"/><circle cx="213" cy="926" r="0.55"/><circle cx="229.4" cy="933.7" r="0.55"/><circle cx="213.1" cy="928.4" r="0.55"/><circle cx="224.3" cy="928.2" r="0.55"/><circle cx="215.6" cy="933.6" r="0.55"/><circle cx="226.7" cy="927.9" r="0.55"/><circle cx="232" cy="928.4" r="0.55"/><circle cx="224.1" cy="913.1" r="0.55"/><circle cx="226" cy="915.8" r="0.55"/><circle cx="222.2" cy="925.6" r="0.55"/><circle cx="224.2" cy="936.1" r="0.55"/><circle cx="221.1" cy="936.8" r="0.55"/><circle cx="225.4" cy="920.9" r="0.55"/><circle cx="223.9" cy="940" r="0.55"/><circle cx="219.7" cy="934.6" r="0.55"/><circle cx="218.7" cy="938" r="0.55"/><circle cx="226.3" cy="937.1" r="0.55"/><circle cx="212.6" cy="926.3" r="0.55"/><circle cx="223" cy="937.9" r="0.55"/><circle cx="218.6" cy="912.8" r="0.55"/><circle cx="218" cy="939.4" r="0.55"/><circle cx="230.8" cy="928.5" r="0.55"/><circle cx="228.8" cy="919.2" r="0.55"/><circle cx="220.7" cy="920.8" r="0.55"/><circle cx="229.6" cy="936.8" r="0.55"/><circle cx="216.2" cy="924.3" r="0.55"/><circle cx="217.5" cy="935.3" r="0.55"/><circle cx="222.3" cy="928.7" r="0.55"/></g>
<ellipse cx="221.5" cy="928" rx="6.5" ry="8" transform="rotate(-10 221.5 928)" stroke-width="1.5"/>
<ellipse cx="221.5" cy="928" rx="3.5" ry="4.5" transform="rotate(-10 221.5 928)" stroke-width="1.2"/>
<path d="M266,896.2 L275.5,892 A10,13.5 0 0 1 275.5,919 L266,922.8 A9.8,13.3 0 0 1 266,896.2 Z" stroke-width="1.8" fill="#1a1a1a"/>
<path d="M268,896.4 C268.3,896.4 269,896.4 269.6,896.5 C270.1,896.6 270.6,896.8 271.1,897 C271.6,897.3 272.1,897.6 272.6,897.9 C273.1,898.3 273.5,898.7 274,899.2 C274.4,899.7 274.8,900.2 275.2,900.7 C275.6,901.3 275.9,901.9 276.2,902.5 C276.5,903.2 276.8,903.9 277,904.5 C277.2,905.2 277.4,905.9 277.5,906.7 C277.6,907.4 277.7,908.1 277.7,908.8 C277.8,909.5 277.8,910.3 277.7,911 C277.6,911.7 277.5,912.4 277.3,913 C277.2,913.7 277,914.3 276.7,914.9 C276.5,915.5 276.2,916 275.9,916.5 C275.5,917 275.2,917.5 274.8,917.9 C274.4,918.3 273.9,918.6 273.5,918.9 C273.1,919.2 272.3,919.4 272.1,919.6" stroke="#fff" stroke-width="2.6" stroke-dasharray="2 1.8" stroke-linecap="butt"/>
<path d="M271.3,895 C271.6,895 272.4,895 272.9,895.1 C273.4,895.2 273.9,895.4 274.4,895.6 C274.9,895.9 275.4,896.2 275.9,896.5 C276.4,896.9 276.9,897.3 277.3,897.8 C277.7,898.3 278.1,898.8 278.5,899.3 C278.9,899.9 279.2,900.5 279.5,901.1 C279.8,901.8 280.1,902.5 280.3,903.1 C280.5,903.8 280.7,904.5 280.8,905.3 C280.9,906 281,906.7 281.1,907.4 C281.1,908.1 281.1,908.9 281,909.6 C280.9,910.3 280.8,911 280.7,911.6 C280.5,912.3 280.3,912.9 280.1,913.5 C279.8,914.1 279.5,914.6 279.2,915.1 C278.9,915.6 278.5,916.1 278.1,916.5 C277.7,916.9 277.3,917.2 276.8,917.5 C276.4,917.8 275.6,918 275.4,918.2" stroke="#fff" stroke-width="2.6" stroke-dasharray="2 1.8" stroke-linecap="butt"/>
<ellipse cx="266" cy="909.5" rx="9.8" ry="13.3" transform="rotate(-10 266 909.5)" stroke-width="1.8" fill="#1a1a1a"/>
<ellipse cx="266" cy="909.5" rx="8.3" ry="11.8" transform="rotate(-10 266 909.5)" stroke-width="0.9" stroke="#fff"/>
<path d="M272.2,908.4 C272.2,908.6 272.3,909.4 272.4,909.9 C272.4,910.3 272.4,910.8 272.4,911.3 C272.4,911.8 272.3,912.2 272.3,912.7 C272.2,913.1 272.1,913.6 272,914 C271.8,914.4 271.7,914.8 271.5,915.2 C271.4,915.6 271.2,915.9 271,916.3 C270.7,916.6 270.5,916.9 270.3,917.2 C270,917.4 269.7,917.7 269.5,917.9 C269.2,918.1 268.9,918.2 268.6,918.4 C268.3,918.5 267.9,918.6 267.6,918.7 C267.3,918.7 267,918.7 266.6,918.7 C266.3,918.7 266,918.6 265.6,918.5 C265.3,918.5 264.9,918.3 264.6,918.2 C264.3,918 264,917.8 263.7,917.6 C263.3,917.3 263,917 262.8,916.7 C262.5,916.5 262.2,916.1 261.9,915.8 C261.7,915.4 261.4,915 261.2,914.6 C261,914.2 260.8,913.8 260.6,913.4 C260.4,912.9 260.3,912.5 260.1,912 C260,911.6 259.9,911.1 259.8,910.6 C259.7,910.1 259.7,909.6 259.6,909.1 C259.6,908.7 259.6,908.2 259.6,907.7 C259.6,907.2 259.7,906.8 259.7,906.3 C259.8,905.9 259.9,905.4 260,905 C260.2,904.6 260.3,904.2 260.5,903.8 C260.6,903.4 260.8,903.1 261,902.7 C261.3,902.4 261.5,902.1 261.7,901.8 C262,901.6 262.3,901.3 262.5,901.1 C262.8,900.9 263.1,900.8 263.4,900.6 C263.7,900.5 264.1,900.4 264.4,900.3 C264.7,900.3 265,900.3 265.4,900.3 C265.7,900.3 266,900.4 266.4,900.5 C266.7,900.5 267.1,900.7 267.4,900.8 C267.7,901 268,901.2 268.3,901.4 C268.7,901.7 269,902 269.2,902.3 C269.5,902.5 269.8,902.9 270.1,903.2 C270.3,903.6 270.6,904 270.8,904.4 C271,904.8 271.2,905.2 271.4,905.6 C271.6,906.1 271.7,906.5 271.9,907 C272,907.4 272.1,908.2 272.2,908.4" stroke="#fff" stroke-width="2.4" stroke-dasharray="1.8 1.6" stroke-linecap="butt"/>
<ellipse cx="266.5" cy="909.5" rx="3.8" ry="6.2" transform="rotate(-10 266.5 909.5)" stroke-width="1.4" fill="#fff"/>
<polygon points="610,832 690.4,801.4 690.4,808 687,810.4 687.5,814 690.4,815.2 690.4,820 596.8,856 583.6,851.2 583.6,834.4" stroke-width="1.8" fill="#fff"/>
<path d="M584.8,834.4 C585.4,833.8 586.8,831.3 588.4,830.8 C590,830.3 592.2,831.4 594.4,831.4 C596.6,831.4 599.6,831 601.6,830.8 C603.6,830.6 605,830 606.4,830.2 C607.8,830.4 609.4,831.7 610,832" stroke-width="1.6"/>
<polyline points="583.6,834.4 596.8,840.4 610,832" stroke-width="1.5"/>
<polyline points="596.8,840.4 596.8,856" stroke-width="1.3"/>
<path d="M588,832.5 C589,832.6 592.3,832.5 594,833 C595.7,833.5 598,834.9 598,835.5 C598,836.1 594.7,836.3 594,836.5" stroke-width="2.2"/>
<ellipse cx="589" cy="844.6" rx="1.4" ry="1.6" stroke-width="1.2"/>
<polygon points="535.5,854 538.5,852.1 549.8,857 550.9,859.2 552,876.5 556.5,884.8 562.5,887.8 566.3,884.8 567.8,878.8 567.8,869 570.8,866.8 585.8,872 586.5,874.2 586.5,902 591,902 593.3,905 591,908 585,909.5 538.5,890 535.5,887.8" stroke-width="1.8" fill="#fff"/>
<polyline points="538.5,852.1 543,856.5 543,885.5 571.5,896.8 571.5,869 570.8,866.8" stroke-width="1.5"/>
<polyline points="535.5,854 542.5,858" stroke-width="1.2"/>
<path d="M545,860 C545.2,862 545.5,868.3 546.5,872 C547.5,875.7 549.2,879.6 551,882 C552.8,884.4 555,885.5 557,886.5 C559,887.5 562,887.8 563,888" stroke-width="2.2"/>
<ellipse cx="578.3" cy="881.8" rx="1.5" ry="1.8" stroke-width="1.2"/>
<polyline points="582.8,876.5 582.8,906.5" stroke-width="1.1" stroke-dasharray="5 2"/>
<polyline points="571.5,869 586.5,874.2" stroke-width="1.2"/>
<path d="M700.7,874.6 L722.5,866.5 A8.5,11 0 0 1 722.5,888.5 L700.7,896.6 A9,11 0 0 1 700.7,874.6 Z" stroke-width="1.8" fill="#fff"/>
<ellipse cx="722.5" cy="877.5" rx="8.5" ry="11" transform="rotate(-15 722.5 877.5)" stroke-width="1.6" fill="#fff"/>
<ellipse cx="723.5" cy="877" rx="6" ry="9" transform="rotate(-15 723.5 877)" stroke-width="1.3"/>
<polyline points="704,879.5 729,871.5" stroke-width="1.4"/>
<polyline points="706,884 730,876" stroke-width="1.4"/>
<polyline points="729,871.5 730,876" stroke-width="1.4"/>
<ellipse cx="700.7" cy="885.6" rx="9" ry="11" transform="rotate(-15 700.7 885.6)" stroke-width="1.8" fill="#fff"/>
<ellipse cx="742.7" cy="866.7" rx="11" ry="13.5" transform="rotate(-20 742.7 866.7)" stroke-width="1.8"/>
<ellipse cx="743" cy="867.4" rx="7.4" ry="10" transform="rotate(-20 743 867.4)" stroke-width="1.6"/>
<path d="M766,844.8 C766.4,844.8 767.4,845 768.1,845.2 C768.8,845.4 769.5,845.7 770.2,846 C770.9,846.4 771.5,846.8 772.2,847.3 C772.8,847.8 773.4,848.3 773.9,848.9 C774.5,849.5 775,850.2 775.5,850.9 C775.9,851.6 776.3,852.3 776.7,853.1 C777,853.9 777.3,854.7 777.6,855.5 C777.8,856.3 778,857.2 778.1,858 C778.2,858.8 778.3,859.7 778.3,860.5 C778.2,861.3 778.1,862.1 778,862.9 C777.9,863.7 777.6,864.4 777.4,865.2 C777.1,865.9 776.8,866.5 776.4,867.2 C776,867.8 775.5,868.4 775,868.9 C774.6,869.4 774,869.8 773.4,870.2 C772.9,870.6 772.2,870.9 771.6,871.1 C771,871.4 770.3,871.5 769.6,871.6 C768.9,871.7 768.2,871.7 767.5,871.6 C766.8,871.5 766.1,871.4 765.4,871.2 C764.7,870.9 764,870.6 763.4,870.3 C762.7,869.9 762,869.4 761.4,868.9 C760.8,868.4 760.2,867.9 759.7,867.2 C759.1,866.6 758.6,866 758.2,865.2 C757.7,864.5 757.3,863.8 757,863 C756.6,862.2 756.4,861.4 756.1,860.6 C755.9,859.8 755.7,858.9 755.6,858.1 C755.6,857.3 755.5,856.4 755.6,855.6 C755.6,854.8 755.7,854 755.9,853.2 C756,852.4 756.3,851.7 756.5,851 C756.8,850.3 757.2,849.6 757.6,849 C758,848.4 758.7,847.6 758.9,847.3" stroke-width="1.7"/>
<path d="M766.1,847.2 C766.3,847.3 767.2,847.4 767.7,847.5 C768.3,847.7 768.9,848 769.4,848.3 C769.9,848.6 770.5,848.9 771,849.3 C771.5,849.7 771.9,850.2 772.4,850.7 C772.8,851.2 773.3,851.7 773.6,852.3 C774,852.9 774.3,853.5 774.6,854.1 C774.9,854.8 775.2,855.4 775.4,856.1 C775.6,856.8 775.7,857.5 775.8,858.1 C775.9,858.8 775.9,859.5 775.9,860.2 C775.9,860.8 775.9,861.5 775.8,862.2 C775.7,862.8 775.5,863.4 775.3,864 C775.1,864.6 774.8,865.1 774.5,865.6 C774.2,866.1 773.9,866.6 773.5,867 C773.1,867.4 772.7,867.8 772.2,868.1 C771.8,868.4 771.3,868.6 770.8,868.8 C770.3,869 769.7,869.1 769.2,869.2 C768.6,869.2 768.1,869.2 767.5,869.2 C767,869.1 766.4,869 765.8,868.8 C765.3,868.6 764.7,868.3 764.2,868 C763.7,867.7 763.1,867.3 762.7,866.9 C762.2,866.5 761.7,866 761.2,865.5 C760.8,865 760.4,864.5 760,863.9 C759.7,863.3 759.3,862.7 759.1,862 C758.8,861.4 758.5,860.7 758.4,860 C758.2,859.4 758,858.7 758,858 C757.9,857.3 757.8,856.6 757.9,856 C757.9,855.3 758,854.6 758.1,854 C758.2,853.4 758.4,852.8 758.6,852.2 C758.8,851.6 759.1,851.1 759.4,850.6 C759.7,850.1 760.3,849.5 760.5,849.2" stroke-width="1.5"/></g>
<g>
<text x="473.2" y="73">14</text>
<text x="494.5" y="73">15</text>
<text x="510.5" y="196">4</text>
<text x="554" y="195">3</text>
<text x="589.5" y="195">2</text>
<text x="300" y="306">5</text>
<text x="373.8" y="306">2</text>
<text x="396" y="306">3</text>
<text x="416.8" y="306">4</text>
<text x="344" y="331">1</text>
<text x="655" y="258">12</text>
<text x="587.5" y="280.2">13</text>
<text x="542" y="370">14</text>
<text x="566.8" y="370">15</text>
<text x="608.5" y="453.5">10</text>
<text x="653" y="453.5">11</text>
<text x="231.5" y="564">7</text>
<text x="270.5" y="564">9</text>
<text x="322.2" y="564">8</text>
<text x="386.5" y="564">10</text>
<text x="414.5" y="564">11</text>
<text x="365.3" y="590">6</text>
<text x="659.5" y="487">35</text>
<text x="690.5" y="487">40</text>
<text x="690.5" y="509">42</text>
<text x="814.5" y="549">43</text>
<text x="550.2" y="593">38</text>
<text x="550.2" y="617.5">41</text>
<text x="550.2" y="641.7">39</text>
<text x="524" y="611">37</text>
<text x="787.5" y="626.5">36</text>
<text x="715.5" y="628">19</text>
<text x="601" y="701">23</text>
<text x="649" y="701">20</text>
<text x="762.3" y="741">31</text>
<text x="703.8" y="763.4">29</text>
<text x="702.3" y="794">30</text>
<text x="530.7" y="701.6">33</text>
<text x="559.5" y="701.6">32</text>
<text x="484.6" y="743.6">34</text>
<text x="410" y="790.8">25</text>
<text x="555.5" y="838.2">24</text>
<text x="294.5" y="830">26</text>
<text x="247.2" y="853.4">27</text>
<text x="262" y="874.6">28</text>
<text x="626" y="885.7">21</text>
<text x="557" y="935">22</text>
<text x="714.8" y="926.3">16</text>
<text x="743.8" y="926.3">17</text>
<text x="771.4" y="926.3">18</text>
</g></svg></body></html>
